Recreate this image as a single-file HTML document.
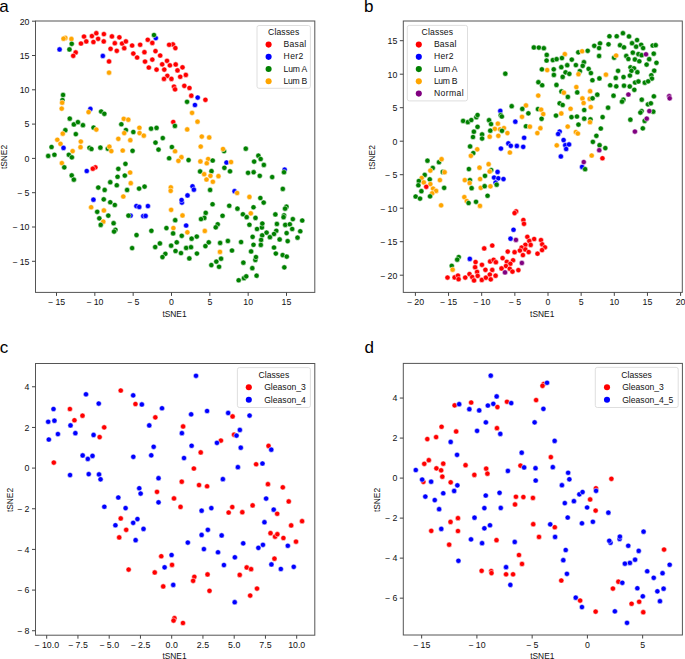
<!DOCTYPE html><html><head><meta charset="utf-8"><style>html,body{margin:0;padding:0;background:#fff;}svg{display:block}text{font-family:"Liberation Sans", sans-serif;} .tl{font-size:8.8px;fill:#111} .pl{font-size:17px;fill:#000} .al{font-size:8.8px;fill:#111} .lg{font-size:8.6px;fill:#111}</style></head><body>
<svg width="685" height="659" viewBox="0 0 685 659">
<rect width="685" height="659" fill="#fff"/>
<text x="-0.7" y="11.6" class="pl">a</text>
<circle cx="65.35" cy="37.91" r="2.6" fill="#ffa500" stroke="#fff" stroke-width="0.5"/>
<circle cx="63.53" cy="38.66" r="2.6" fill="#ffa500" stroke="#fff" stroke-width="0.5"/>
<circle cx="71.42" cy="38.97" r="2.6" fill="#ffa500" stroke="#fff" stroke-width="0.5"/>
<circle cx="71.72" cy="43.82" r="2.6" fill="#008000" stroke="#fff" stroke-width="0.5"/>
<circle cx="59.58" cy="49.44" r="2.6" fill="#0000ff" stroke="#fff" stroke-width="0.5"/>
<circle cx="69.45" cy="49.44" r="2.6" fill="#008000" stroke="#fff" stroke-width="0.5"/>
<circle cx="75.67" cy="52.47" r="2.6" fill="#ff0000" stroke="#fff" stroke-width="0.5"/>
<circle cx="73.24" cy="55.81" r="2.6" fill="#ff0000" stroke="#fff" stroke-width="0.5"/>
<circle cx="80.98" cy="43.52" r="2.6" fill="#ff0000" stroke="#fff" stroke-width="0.5"/>
<circle cx="84.01" cy="36.54" r="2.6" fill="#ff0000" stroke="#fff" stroke-width="0.5"/>
<circle cx="86.29" cy="41.4" r="2.6" fill="#ff0000" stroke="#fff" stroke-width="0.5"/>
<circle cx="91.9" cy="36.08" r="2.6" fill="#ff0000" stroke="#fff" stroke-width="0.5"/>
<circle cx="93.42" cy="42" r="2.6" fill="#ff0000" stroke="#fff" stroke-width="0.5"/>
<circle cx="96.31" cy="33.2" r="2.6" fill="#ff0000" stroke="#fff" stroke-width="0.5"/>
<circle cx="98.13" cy="38.82" r="2.6" fill="#ff0000" stroke="#fff" stroke-width="0.5"/>
<circle cx="103.89" cy="34.11" r="2.6" fill="#ff0000" stroke="#fff" stroke-width="0.5"/>
<circle cx="103.74" cy="41.4" r="2.6" fill="#ff0000" stroke="#fff" stroke-width="0.5"/>
<circle cx="111.93" cy="36.39" r="2.6" fill="#ff0000" stroke="#fff" stroke-width="0.5"/>
<circle cx="114.82" cy="43.22" r="2.6" fill="#ff0000" stroke="#fff" stroke-width="0.5"/>
<circle cx="110.57" cy="48.83" r="2.6" fill="#ff0000" stroke="#fff" stroke-width="0.5"/>
<circle cx="119.37" cy="37.3" r="2.6" fill="#ff0000" stroke="#fff" stroke-width="0.5"/>
<circle cx="116.79" cy="50.8" r="2.6" fill="#ff0000" stroke="#fff" stroke-width="0.5"/>
<circle cx="122.1" cy="43.52" r="2.6" fill="#ff0000" stroke="#fff" stroke-width="0.5"/>
<circle cx="125.9" cy="41.4" r="2.6" fill="#ff0000" stroke="#fff" stroke-width="0.5"/>
<circle cx="124.23" cy="48.22" r="2.6" fill="#ff0000" stroke="#fff" stroke-width="0.5"/>
<circle cx="132.12" cy="45.49" r="2.6" fill="#ff0000" stroke="#fff" stroke-width="0.5"/>
<circle cx="133.33" cy="53.54" r="2.6" fill="#ff0000" stroke="#fff" stroke-width="0.5"/>
<circle cx="102.83" cy="55.96" r="2.6" fill="#0000ff" stroke="#fff" stroke-width="0.5"/>
<circle cx="109.05" cy="61.43" r="2.6" fill="#ff0000" stroke="#fff" stroke-width="0.5"/>
<circle cx="109.05" cy="72.66" r="2.6" fill="#ffa500" stroke="#fff" stroke-width="0.5"/>
<circle cx="63.07" cy="94.96" r="2.6" fill="#008000" stroke="#fff" stroke-width="0.5"/>
<circle cx="62.47" cy="100.12" r="2.6" fill="#008000" stroke="#fff" stroke-width="0.5"/>
<circle cx="62.16" cy="102.7" r="2.6" fill="#ffa500" stroke="#fff" stroke-width="0.5"/>
<circle cx="61.71" cy="108.62" r="2.6" fill="#ffa500" stroke="#fff" stroke-width="0.5"/>
<circle cx="90.39" cy="108.92" r="2.6" fill="#0000ff" stroke="#fff" stroke-width="0.5"/>
<circle cx="88.57" cy="112.11" r="2.6" fill="#ffa500" stroke="#fff" stroke-width="0.5"/>
<circle cx="101.16" cy="111.5" r="2.6" fill="#008000" stroke="#fff" stroke-width="0.5"/>
<circle cx="104.35" cy="113.78" r="2.6" fill="#008000" stroke="#fff" stroke-width="0.5"/>
<circle cx="69.75" cy="118.63" r="2.6" fill="#008000" stroke="#fff" stroke-width="0.5"/>
<circle cx="123.77" cy="118.79" r="2.6" fill="#ffa500" stroke="#fff" stroke-width="0.5"/>
<circle cx="128.32" cy="119.7" r="2.6" fill="#ffa500" stroke="#fff" stroke-width="0.5"/>
<circle cx="155.8" cy="38.06" r="2.6" fill="#0000ff" stroke="#fff" stroke-width="0.5"/>
<circle cx="153.98" cy="35.02" r="2.6" fill="#008000" stroke="#fff" stroke-width="0.5"/>
<circle cx="147.75" cy="39.73" r="2.6" fill="#ff0000" stroke="#fff" stroke-width="0.5"/>
<circle cx="152.31" cy="42.91" r="2.6" fill="#ff0000" stroke="#fff" stroke-width="0.5"/>
<circle cx="140.17" cy="44.73" r="2.6" fill="#ff0000" stroke="#fff" stroke-width="0.5"/>
<circle cx="172.94" cy="44.43" r="2.6" fill="#ff0000" stroke="#fff" stroke-width="0.5"/>
<circle cx="169.15" cy="44.73" r="2.6" fill="#ff0000" stroke="#fff" stroke-width="0.5"/>
<circle cx="175.37" cy="48.07" r="2.6" fill="#ff0000" stroke="#fff" stroke-width="0.5"/>
<circle cx="137.13" cy="57.48" r="2.6" fill="#ff0000" stroke="#fff" stroke-width="0.5"/>
<circle cx="144.42" cy="52.17" r="2.6" fill="#ff0000" stroke="#fff" stroke-width="0.5"/>
<circle cx="155.49" cy="51.11" r="2.6" fill="#ff0000" stroke="#fff" stroke-width="0.5"/>
<circle cx="160.2" cy="55.51" r="2.6" fill="#ff0000" stroke="#fff" stroke-width="0.5"/>
<circle cx="145.02" cy="61.58" r="2.6" fill="#ff0000" stroke="#fff" stroke-width="0.5"/>
<circle cx="152.31" cy="59.61" r="2.6" fill="#ff0000" stroke="#fff" stroke-width="0.5"/>
<circle cx="167.03" cy="60.82" r="2.6" fill="#ff0000" stroke="#fff" stroke-width="0.5"/>
<circle cx="162.17" cy="64.31" r="2.6" fill="#ff0000" stroke="#fff" stroke-width="0.5"/>
<circle cx="169.91" cy="65.37" r="2.6" fill="#ff0000" stroke="#fff" stroke-width="0.5"/>
<circle cx="175.68" cy="64.46" r="2.6" fill="#ff0000" stroke="#fff" stroke-width="0.5"/>
<circle cx="148.82" cy="67.5" r="2.6" fill="#ff0000" stroke="#fff" stroke-width="0.5"/>
<circle cx="156.56" cy="69.62" r="2.6" fill="#ff0000" stroke="#fff" stroke-width="0.5"/>
<circle cx="164.29" cy="69.62" r="2.6" fill="#ff0000" stroke="#fff" stroke-width="0.5"/>
<circle cx="177.5" cy="70.38" r="2.6" fill="#ff0000" stroke="#fff" stroke-width="0.5"/>
<circle cx="182.5" cy="67.34" r="2.6" fill="#ff0000" stroke="#fff" stroke-width="0.5"/>
<circle cx="167.33" cy="75.84" r="2.6" fill="#ff0000" stroke="#fff" stroke-width="0.5"/>
<circle cx="163.99" cy="78.88" r="2.6" fill="#ff0000" stroke="#fff" stroke-width="0.5"/>
<circle cx="171.43" cy="78.88" r="2.6" fill="#ff0000" stroke="#fff" stroke-width="0.5"/>
<circle cx="180.23" cy="76.75" r="2.6" fill="#ff0000" stroke="#fff" stroke-width="0.5"/>
<circle cx="185.84" cy="74.93" r="2.6" fill="#ff0000" stroke="#fff" stroke-width="0.5"/>
<circle cx="174.01" cy="86.62" r="2.6" fill="#ff0000" stroke="#fff" stroke-width="0.5"/>
<circle cx="175.07" cy="89.35" r="2.6" fill="#ff0000" stroke="#fff" stroke-width="0.5"/>
<circle cx="184.32" cy="85.86" r="2.6" fill="#ff0000" stroke="#fff" stroke-width="0.5"/>
<circle cx="189.48" cy="87.98" r="2.6" fill="#ff0000" stroke="#fff" stroke-width="0.5"/>
<circle cx="191.31" cy="95.72" r="2.6" fill="#ff0000" stroke="#fff" stroke-width="0.5"/>
<circle cx="197.68" cy="97.54" r="2.6" fill="#0000ff" stroke="#fff" stroke-width="0.5"/>
<circle cx="205.42" cy="99.82" r="2.6" fill="#ff0000" stroke="#fff" stroke-width="0.5"/>
<circle cx="187.06" cy="101.79" r="2.6" fill="#008000" stroke="#fff" stroke-width="0.5"/>
<circle cx="194.95" cy="104.98" r="2.6" fill="#0000ff" stroke="#fff" stroke-width="0.5"/>
<circle cx="192.06" cy="112.87" r="2.6" fill="#ffa500" stroke="#fff" stroke-width="0.5"/>
<circle cx="73.85" cy="124.41" r="2.6" fill="#008000" stroke="#fff" stroke-width="0.5"/>
<circle cx="77.94" cy="122.13" r="2.6" fill="#008000" stroke="#fff" stroke-width="0.5"/>
<circle cx="82.95" cy="125.17" r="2.6" fill="#008000" stroke="#fff" stroke-width="0.5"/>
<circle cx="93.57" cy="127.59" r="2.6" fill="#008000" stroke="#fff" stroke-width="0.5"/>
<circle cx="96.31" cy="129.57" r="2.6" fill="#ffa500" stroke="#fff" stroke-width="0.5"/>
<circle cx="121.34" cy="124.26" r="2.6" fill="#008000" stroke="#fff" stroke-width="0.5"/>
<circle cx="65.35" cy="130.17" r="2.6" fill="#008000" stroke="#fff" stroke-width="0.5"/>
<circle cx="62.77" cy="133.66" r="2.6" fill="#ffa500" stroke="#fff" stroke-width="0.5"/>
<circle cx="75.82" cy="134.12" r="2.6" fill="#008000" stroke="#fff" stroke-width="0.5"/>
<circle cx="125.9" cy="130.02" r="2.6" fill="#008000" stroke="#fff" stroke-width="0.5"/>
<circle cx="124.23" cy="133.06" r="2.6" fill="#ffa500" stroke="#fff" stroke-width="0.5"/>
<circle cx="133.33" cy="132" r="2.6" fill="#008000" stroke="#fff" stroke-width="0.5"/>
<circle cx="57.31" cy="139.73" r="2.6" fill="#ffa500" stroke="#fff" stroke-width="0.5"/>
<circle cx="60.49" cy="143.83" r="2.6" fill="#ffa500" stroke="#fff" stroke-width="0.5"/>
<circle cx="80.83" cy="141.56" r="2.6" fill="#ffa500" stroke="#fff" stroke-width="0.5"/>
<circle cx="118.31" cy="138.82" r="2.6" fill="#ffa500" stroke="#fff" stroke-width="0.5"/>
<circle cx="130.3" cy="140.19" r="2.6" fill="#ffa500" stroke="#fff" stroke-width="0.5"/>
<circle cx="51.54" cy="147.02" r="2.6" fill="#008000" stroke="#fff" stroke-width="0.5"/>
<circle cx="63.53" cy="147.93" r="2.6" fill="#0000ff" stroke="#fff" stroke-width="0.5"/>
<circle cx="80.52" cy="147.17" r="2.6" fill="#ffa500" stroke="#fff" stroke-width="0.5"/>
<circle cx="89.48" cy="147.78" r="2.6" fill="#008000" stroke="#fff" stroke-width="0.5"/>
<circle cx="91.45" cy="148.99" r="2.6" fill="#008000" stroke="#fff" stroke-width="0.5"/>
<circle cx="100.4" cy="147.63" r="2.6" fill="#008000" stroke="#fff" stroke-width="0.5"/>
<circle cx="107.84" cy="148.69" r="2.6" fill="#008000" stroke="#fff" stroke-width="0.5"/>
<circle cx="109.36" cy="146.71" r="2.6" fill="#ffa500" stroke="#fff" stroke-width="0.5"/>
<circle cx="111.33" cy="151.12" r="2.6" fill="#ffa500" stroke="#fff" stroke-width="0.5"/>
<circle cx="122.71" cy="150.51" r="2.6" fill="#ffa500" stroke="#fff" stroke-width="0.5"/>
<circle cx="132.57" cy="150.81" r="2.6" fill="#008000" stroke="#fff" stroke-width="0.5"/>
<circle cx="72.63" cy="151.12" r="2.6" fill="#ffa500" stroke="#fff" stroke-width="0.5"/>
<circle cx="68.84" cy="154.76" r="2.6" fill="#008000" stroke="#fff" stroke-width="0.5"/>
<circle cx="71.87" cy="157.34" r="2.6" fill="#008000" stroke="#fff" stroke-width="0.5"/>
<circle cx="48.2" cy="155.97" r="2.6" fill="#008000" stroke="#fff" stroke-width="0.5"/>
<circle cx="54.42" cy="154.76" r="2.6" fill="#008000" stroke="#fff" stroke-width="0.5"/>
<circle cx="61.86" cy="163.1" r="2.6" fill="#ffa500" stroke="#fff" stroke-width="0.5"/>
<circle cx="64.29" cy="167.35" r="2.6" fill="#008000" stroke="#fff" stroke-width="0.5"/>
<circle cx="86.75" cy="170.99" r="2.6" fill="#0000ff" stroke="#fff" stroke-width="0.5"/>
<circle cx="95.39" cy="167.35" r="2.6" fill="#ff0000" stroke="#fff" stroke-width="0.5"/>
<circle cx="92.81" cy="168.72" r="2.6" fill="#ff0000" stroke="#fff" stroke-width="0.5"/>
<circle cx="125.44" cy="163.86" r="2.6" fill="#008000" stroke="#fff" stroke-width="0.5"/>
<circle cx="118.31" cy="168.87" r="2.6" fill="#008000" stroke="#fff" stroke-width="0.5"/>
<circle cx="130.14" cy="172.51" r="2.6" fill="#ffa500" stroke="#fff" stroke-width="0.5"/>
<circle cx="124.83" cy="175.55" r="2.6" fill="#008000" stroke="#fff" stroke-width="0.5"/>
<circle cx="117.55" cy="176.76" r="2.6" fill="#008000" stroke="#fff" stroke-width="0.5"/>
<circle cx="71.72" cy="175.39" r="2.6" fill="#008000" stroke="#fff" stroke-width="0.5"/>
<circle cx="73.85" cy="179.64" r="2.6" fill="#008000" stroke="#fff" stroke-width="0.5"/>
<circle cx="110.27" cy="182.22" r="2.6" fill="#008000" stroke="#fff" stroke-width="0.5"/>
<circle cx="116.79" cy="185.26" r="2.6" fill="#008000" stroke="#fff" stroke-width="0.5"/>
<circle cx="98.28" cy="187.53" r="2.6" fill="#008000" stroke="#fff" stroke-width="0.5"/>
<circle cx="104.65" cy="189.96" r="2.6" fill="#008000" stroke="#fff" stroke-width="0.5"/>
<circle cx="130.75" cy="183.13" r="2.6" fill="#ffa500" stroke="#fff" stroke-width="0.5"/>
<circle cx="127.11" cy="189.96" r="2.6" fill="#008000" stroke="#fff" stroke-width="0.5"/>
<circle cx="123.32" cy="196.49" r="2.6" fill="#ffa500" stroke="#fff" stroke-width="0.5"/>
<circle cx="93.42" cy="199.67" r="2.6" fill="#0000ff" stroke="#fff" stroke-width="0.5"/>
<circle cx="103.74" cy="199.37" r="2.6" fill="#008000" stroke="#fff" stroke-width="0.5"/>
<circle cx="110.27" cy="202.25" r="2.6" fill="#008000" stroke="#fff" stroke-width="0.5"/>
<circle cx="114.82" cy="204.98" r="2.6" fill="#008000" stroke="#fff" stroke-width="0.5"/>
<circle cx="91.15" cy="207.26" r="2.6" fill="#ffa500" stroke="#fff" stroke-width="0.5"/>
<circle cx="103.89" cy="210.45" r="2.6" fill="#ffa500" stroke="#fff" stroke-width="0.5"/>
<circle cx="97.22" cy="211.81" r="2.6" fill="#008000" stroke="#fff" stroke-width="0.5"/>
<circle cx="173.25" cy="121.98" r="2.6" fill="#ff0000" stroke="#fff" stroke-width="0.5"/>
<circle cx="174.92" cy="125.93" r="2.6" fill="#008000" stroke="#fff" stroke-width="0.5"/>
<circle cx="197.53" cy="121.68" r="2.6" fill="#ffa500" stroke="#fff" stroke-width="0.5"/>
<circle cx="187.21" cy="129.42" r="2.6" fill="#ffa500" stroke="#fff" stroke-width="0.5"/>
<circle cx="139.41" cy="127.75" r="2.6" fill="#ffa500" stroke="#fff" stroke-width="0.5"/>
<circle cx="139.56" cy="133.06" r="2.6" fill="#ffa500" stroke="#fff" stroke-width="0.5"/>
<circle cx="143.81" cy="135.64" r="2.6" fill="#ffa500" stroke="#fff" stroke-width="0.5"/>
<circle cx="151.09" cy="128.66" r="2.6" fill="#008000" stroke="#fff" stroke-width="0.5"/>
<circle cx="156.56" cy="127.9" r="2.6" fill="#008000" stroke="#fff" stroke-width="0.5"/>
<circle cx="162.78" cy="138.07" r="2.6" fill="#008000" stroke="#fff" stroke-width="0.5"/>
<circle cx="155.49" cy="142.62" r="2.6" fill="#008000" stroke="#fff" stroke-width="0.5"/>
<circle cx="158.53" cy="149.6" r="2.6" fill="#008000" stroke="#fff" stroke-width="0.5"/>
<circle cx="171.88" cy="147.02" r="2.6" fill="#008000" stroke="#fff" stroke-width="0.5"/>
<circle cx="175.07" cy="151.27" r="2.6" fill="#ffa500" stroke="#fff" stroke-width="0.5"/>
<circle cx="181.44" cy="157.19" r="2.6" fill="#ffa500" stroke="#fff" stroke-width="0.5"/>
<circle cx="178.41" cy="160.83" r="2.6" fill="#ffa500" stroke="#fff" stroke-width="0.5"/>
<circle cx="169.15" cy="158.25" r="2.6" fill="#008000" stroke="#fff" stroke-width="0.5"/>
<circle cx="188.57" cy="160.07" r="2.6" fill="#008000" stroke="#fff" stroke-width="0.5"/>
<circle cx="201.78" cy="136.55" r="2.6" fill="#ffa500" stroke="#fff" stroke-width="0.5"/>
<circle cx="209.21" cy="137.46" r="2.6" fill="#ffa500" stroke="#fff" stroke-width="0.5"/>
<circle cx="200.71" cy="146.56" r="2.6" fill="#ffa500" stroke="#fff" stroke-width="0.5"/>
<circle cx="224.08" cy="151.12" r="2.6" fill="#008000" stroke="#fff" stroke-width="0.5"/>
<circle cx="223.02" cy="148.99" r="2.6" fill="#ffa500" stroke="#fff" stroke-width="0.5"/>
<circle cx="200.41" cy="161.43" r="2.6" fill="#ffa500" stroke="#fff" stroke-width="0.5"/>
<circle cx="208.15" cy="159.01" r="2.6" fill="#ffa500" stroke="#fff" stroke-width="0.5"/>
<circle cx="206.78" cy="163.25" r="2.6" fill="#ffa500" stroke="#fff" stroke-width="0.5"/>
<circle cx="212.7" cy="160.52" r="2.6" fill="#008000" stroke="#fff" stroke-width="0.5"/>
<circle cx="226.51" cy="162.5" r="2.6" fill="#0000ff" stroke="#fff" stroke-width="0.5"/>
<circle cx="224.39" cy="167.81" r="2.6" fill="#008000" stroke="#fff" stroke-width="0.5"/>
<circle cx="200.11" cy="171.45" r="2.6" fill="#008000" stroke="#fff" stroke-width="0.5"/>
<circle cx="211.49" cy="171.15" r="2.6" fill="#008000" stroke="#fff" stroke-width="0.5"/>
<circle cx="204.2" cy="174.18" r="2.6" fill="#ffa500" stroke="#fff" stroke-width="0.5"/>
<circle cx="210.42" cy="175.85" r="2.6" fill="#ffa500" stroke="#fff" stroke-width="0.5"/>
<circle cx="218.47" cy="176.15" r="2.6" fill="#ffa500" stroke="#fff" stroke-width="0.5"/>
<circle cx="206.48" cy="179.49" r="2.6" fill="#ffa500" stroke="#fff" stroke-width="0.5"/>
<circle cx="212.85" cy="181.77" r="2.6" fill="#ffa500" stroke="#fff" stroke-width="0.5"/>
<circle cx="139.1" cy="188.6" r="2.6" fill="#008000" stroke="#fff" stroke-width="0.5"/>
<circle cx="144.57" cy="186.62" r="2.6" fill="#008000" stroke="#fff" stroke-width="0.5"/>
<circle cx="170.82" cy="187.38" r="2.6" fill="#ffa500" stroke="#fff" stroke-width="0.5"/>
<circle cx="170.67" cy="190.87" r="2.6" fill="#ffa500" stroke="#fff" stroke-width="0.5"/>
<circle cx="192.52" cy="186.32" r="2.6" fill="#0000ff" stroke="#fff" stroke-width="0.5"/>
<circle cx="193.88" cy="189.66" r="2.6" fill="#0000ff" stroke="#fff" stroke-width="0.5"/>
<circle cx="187.51" cy="195.42" r="2.6" fill="#0000ff" stroke="#fff" stroke-width="0.5"/>
<circle cx="181.9" cy="202.56" r="2.6" fill="#0000ff" stroke="#fff" stroke-width="0.5"/>
<circle cx="181.59" cy="199.98" r="2.6" fill="#0000ff" stroke="#fff" stroke-width="0.5"/>
<circle cx="210.12" cy="189.96" r="2.6" fill="#008000" stroke="#fff" stroke-width="0.5"/>
<circle cx="212.55" cy="204.23" r="2.6" fill="#008000" stroke="#fff" stroke-width="0.5"/>
<circle cx="136.37" cy="206.05" r="2.6" fill="#0000ff" stroke="#fff" stroke-width="0.5"/>
<circle cx="139.26" cy="206.96" r="2.6" fill="#0000ff" stroke="#fff" stroke-width="0.5"/>
<circle cx="147.91" cy="206.05" r="2.6" fill="#0000ff" stroke="#fff" stroke-width="0.5"/>
<circle cx="171.12" cy="209.84" r="2.6" fill="#ffa500" stroke="#fff" stroke-width="0.5"/>
<circle cx="205.72" cy="212.88" r="2.6" fill="#008000" stroke="#fff" stroke-width="0.5"/>
<circle cx="245.79" cy="148.69" r="2.6" fill="#008000" stroke="#fff" stroke-width="0.5"/>
<circle cx="258.38" cy="155.67" r="2.6" fill="#008000" stroke="#fff" stroke-width="0.5"/>
<circle cx="260.66" cy="159.01" r="2.6" fill="#008000" stroke="#fff" stroke-width="0.5"/>
<circle cx="254.14" cy="161.59" r="2.6" fill="#008000" stroke="#fff" stroke-width="0.5"/>
<circle cx="263.85" cy="164.92" r="2.6" fill="#008000" stroke="#fff" stroke-width="0.5"/>
<circle cx="231.07" cy="162.04" r="2.6" fill="#ffa500" stroke="#fff" stroke-width="0.5"/>
<circle cx="230.01" cy="171.3" r="2.6" fill="#008000" stroke="#fff" stroke-width="0.5"/>
<circle cx="248.07" cy="172.81" r="2.6" fill="#008000" stroke="#fff" stroke-width="0.5"/>
<circle cx="253.68" cy="172.21" r="2.6" fill="#008000" stroke="#fff" stroke-width="0.5"/>
<circle cx="259.75" cy="175.85" r="2.6" fill="#008000" stroke="#fff" stroke-width="0.5"/>
<circle cx="272.19" cy="177.06" r="2.6" fill="#008000" stroke="#fff" stroke-width="0.5"/>
<circle cx="284.64" cy="169.63" r="2.6" fill="#0000ff" stroke="#fff" stroke-width="0.5"/>
<circle cx="284.03" cy="172.21" r="2.6" fill="#008000" stroke="#fff" stroke-width="0.5"/>
<circle cx="282.81" cy="188.9" r="2.6" fill="#008000" stroke="#fff" stroke-width="0.5"/>
<circle cx="234.56" cy="191.18" r="2.6" fill="#0000ff" stroke="#fff" stroke-width="0.5"/>
<circle cx="237.14" cy="193" r="2.6" fill="#ffa500" stroke="#fff" stroke-width="0.5"/>
<circle cx="249.43" cy="196.94" r="2.6" fill="#ffa500" stroke="#fff" stroke-width="0.5"/>
<circle cx="260.36" cy="198" r="2.6" fill="#008000" stroke="#fff" stroke-width="0.5"/>
<circle cx="263.69" cy="202.56" r="2.6" fill="#008000" stroke="#fff" stroke-width="0.5"/>
<circle cx="229.25" cy="205.74" r="2.6" fill="#008000" stroke="#fff" stroke-width="0.5"/>
<circle cx="237.44" cy="208.63" r="2.6" fill="#008000" stroke="#fff" stroke-width="0.5"/>
<circle cx="253.53" cy="207.26" r="2.6" fill="#008000" stroke="#fff" stroke-width="0.5"/>
<circle cx="286.46" cy="206.65" r="2.6" fill="#008000" stroke="#fff" stroke-width="0.5"/>
<circle cx="285.09" cy="208.63" r="2.6" fill="#008000" stroke="#fff" stroke-width="0.5"/>
<circle cx="250.8" cy="213.33" r="2.6" fill="#ffa500" stroke="#fff" stroke-width="0.5"/>
<circle cx="108.29" cy="215.62" r="2.6" fill="#008000" stroke="#fff" stroke-width="0.5"/>
<circle cx="99.34" cy="218.35" r="2.6" fill="#008000" stroke="#fff" stroke-width="0.5"/>
<circle cx="103.29" cy="221.69" r="2.6" fill="#ffa500" stroke="#fff" stroke-width="0.5"/>
<circle cx="100.71" cy="224.88" r="2.6" fill="#008000" stroke="#fff" stroke-width="0.5"/>
<circle cx="113.6" cy="223.21" r="2.6" fill="#008000" stroke="#fff" stroke-width="0.5"/>
<circle cx="115.42" cy="229.73" r="2.6" fill="#008000" stroke="#fff" stroke-width="0.5"/>
<circle cx="114.06" cy="231.56" r="2.6" fill="#008000" stroke="#fff" stroke-width="0.5"/>
<circle cx="130.6" cy="215.62" r="2.6" fill="#0000ff" stroke="#fff" stroke-width="0.5"/>
<circle cx="128.47" cy="215.62" r="2.6" fill="#008000" stroke="#fff" stroke-width="0.5"/>
<circle cx="132.12" cy="248.1" r="2.6" fill="#008000" stroke="#fff" stroke-width="0.5"/>
<circle cx="143.2" cy="216.08" r="2.6" fill="#0000ff" stroke="#fff" stroke-width="0.5"/>
<circle cx="145.63" cy="215.93" r="2.6" fill="#0000ff" stroke="#fff" stroke-width="0.5"/>
<circle cx="182.5" cy="215.47" r="2.6" fill="#ffa500" stroke="#fff" stroke-width="0.5"/>
<circle cx="175.22" cy="220.17" r="2.6" fill="#008000" stroke="#fff" stroke-width="0.5"/>
<circle cx="204.36" cy="217.9" r="2.6" fill="#008000" stroke="#fff" stroke-width="0.5"/>
<circle cx="201.02" cy="219.11" r="2.6" fill="#008000" stroke="#fff" stroke-width="0.5"/>
<circle cx="222.56" cy="215.77" r="2.6" fill="#008000" stroke="#fff" stroke-width="0.5"/>
<circle cx="186.15" cy="225.49" r="2.6" fill="#0000ff" stroke="#fff" stroke-width="0.5"/>
<circle cx="173.4" cy="228.07" r="2.6" fill="#ffa500" stroke="#fff" stroke-width="0.5"/>
<circle cx="166.42" cy="228.07" r="2.6" fill="#008000" stroke="#fff" stroke-width="0.5"/>
<circle cx="151.4" cy="230.8" r="2.6" fill="#008000" stroke="#fff" stroke-width="0.5"/>
<circle cx="136.53" cy="235.05" r="2.6" fill="#008000" stroke="#fff" stroke-width="0.5"/>
<circle cx="187.36" cy="232.31" r="2.6" fill="#ffa500" stroke="#fff" stroke-width="0.5"/>
<circle cx="173.1" cy="233.38" r="2.6" fill="#008000" stroke="#fff" stroke-width="0.5"/>
<circle cx="217.71" cy="224.27" r="2.6" fill="#008000" stroke="#fff" stroke-width="0.5"/>
<circle cx="215.74" cy="227.31" r="2.6" fill="#008000" stroke="#fff" stroke-width="0.5"/>
<circle cx="204.81" cy="230.95" r="2.6" fill="#ffa500" stroke="#fff" stroke-width="0.5"/>
<circle cx="181.75" cy="235.8" r="2.6" fill="#008000" stroke="#fff" stroke-width="0.5"/>
<circle cx="191.61" cy="238.69" r="2.6" fill="#008000" stroke="#fff" stroke-width="0.5"/>
<circle cx="196.77" cy="236.56" r="2.6" fill="#008000" stroke="#fff" stroke-width="0.5"/>
<circle cx="176.74" cy="242.33" r="2.6" fill="#008000" stroke="#fff" stroke-width="0.5"/>
<circle cx="159.89" cy="243.39" r="2.6" fill="#008000" stroke="#fff" stroke-width="0.5"/>
<circle cx="155.19" cy="247.03" r="2.6" fill="#008000" stroke="#fff" stroke-width="0.5"/>
<circle cx="171.12" cy="245.67" r="2.6" fill="#008000" stroke="#fff" stroke-width="0.5"/>
<circle cx="186.15" cy="247.94" r="2.6" fill="#008000" stroke="#fff" stroke-width="0.5"/>
<circle cx="191" cy="247.19" r="2.6" fill="#008000" stroke="#fff" stroke-width="0.5"/>
<circle cx="208.76" cy="242.33" r="2.6" fill="#008000" stroke="#fff" stroke-width="0.5"/>
<circle cx="205.42" cy="246.12" r="2.6" fill="#008000" stroke="#fff" stroke-width="0.5"/>
<circle cx="220.14" cy="242.94" r="2.6" fill="#008000" stroke="#fff" stroke-width="0.5"/>
<circle cx="227.88" cy="240.96" r="2.6" fill="#008000" stroke="#fff" stroke-width="0.5"/>
<circle cx="219.98" cy="251.89" r="2.6" fill="#ffa500" stroke="#fff" stroke-width="0.5"/>
<circle cx="175.52" cy="250.98" r="2.6" fill="#008000" stroke="#fff" stroke-width="0.5"/>
<circle cx="180.99" cy="253.1" r="2.6" fill="#008000" stroke="#fff" stroke-width="0.5"/>
<circle cx="196.92" cy="253.56" r="2.6" fill="#008000" stroke="#fff" stroke-width="0.5"/>
<circle cx="165.36" cy="253.86" r="2.6" fill="#008000" stroke="#fff" stroke-width="0.5"/>
<circle cx="162.47" cy="257.05" r="2.6" fill="#008000" stroke="#fff" stroke-width="0.5"/>
<circle cx="189.33" cy="258.41" r="2.6" fill="#008000" stroke="#fff" stroke-width="0.5"/>
<circle cx="221.05" cy="258.72" r="2.6" fill="#008000" stroke="#fff" stroke-width="0.5"/>
<circle cx="216.34" cy="261.6" r="2.6" fill="#008000" stroke="#fff" stroke-width="0.5"/>
<circle cx="211.34" cy="265.09" r="2.6" fill="#008000" stroke="#fff" stroke-width="0.5"/>
<circle cx="219.07" cy="266.76" r="2.6" fill="#008000" stroke="#fff" stroke-width="0.5"/>
<circle cx="242.91" cy="214.26" r="2.6" fill="#008000" stroke="#fff" stroke-width="0.5"/>
<circle cx="246.7" cy="217.14" r="2.6" fill="#008000" stroke="#fff" stroke-width="0.5"/>
<circle cx="255.5" cy="217.9" r="2.6" fill="#008000" stroke="#fff" stroke-width="0.5"/>
<circle cx="275.38" cy="214.41" r="2.6" fill="#008000" stroke="#fff" stroke-width="0.5"/>
<circle cx="284.03" cy="215.32" r="2.6" fill="#008000" stroke="#fff" stroke-width="0.5"/>
<circle cx="283.57" cy="217.14" r="2.6" fill="#008000" stroke="#fff" stroke-width="0.5"/>
<circle cx="292.83" cy="219.11" r="2.6" fill="#008000" stroke="#fff" stroke-width="0.5"/>
<circle cx="302.24" cy="220.48" r="2.6" fill="#008000" stroke="#fff" stroke-width="0.5"/>
<circle cx="249.43" cy="224.73" r="2.6" fill="#008000" stroke="#fff" stroke-width="0.5"/>
<circle cx="261.87" cy="227.46" r="2.6" fill="#008000" stroke="#fff" stroke-width="0.5"/>
<circle cx="262.33" cy="223.51" r="2.6" fill="#008000" stroke="#fff" stroke-width="0.5"/>
<circle cx="257.02" cy="228.98" r="2.6" fill="#008000" stroke="#fff" stroke-width="0.5"/>
<circle cx="276.9" cy="223.97" r="2.6" fill="#008000" stroke="#fff" stroke-width="0.5"/>
<circle cx="285.24" cy="224.88" r="2.6" fill="#008000" stroke="#fff" stroke-width="0.5"/>
<circle cx="289.8" cy="224.27" r="2.6" fill="#008000" stroke="#fff" stroke-width="0.5"/>
<circle cx="292.22" cy="228.98" r="2.6" fill="#008000" stroke="#fff" stroke-width="0.5"/>
<circle cx="276.29" cy="230.8" r="2.6" fill="#008000" stroke="#fff" stroke-width="0.5"/>
<circle cx="300.27" cy="231.25" r="2.6" fill="#008000" stroke="#fff" stroke-width="0.5"/>
<circle cx="266.58" cy="232.62" r="2.6" fill="#008000" stroke="#fff" stroke-width="0.5"/>
<circle cx="274.01" cy="233.98" r="2.6" fill="#008000" stroke="#fff" stroke-width="0.5"/>
<circle cx="262.18" cy="235.35" r="2.6" fill="#008000" stroke="#fff" stroke-width="0.5"/>
<circle cx="252.62" cy="236.87" r="2.6" fill="#008000" stroke="#fff" stroke-width="0.5"/>
<circle cx="286.61" cy="233.07" r="2.6" fill="#008000" stroke="#fff" stroke-width="0.5"/>
<circle cx="269.92" cy="237.17" r="2.6" fill="#008000" stroke="#fff" stroke-width="0.5"/>
<circle cx="279.63" cy="239.45" r="2.6" fill="#008000" stroke="#fff" stroke-width="0.5"/>
<circle cx="261.12" cy="239.9" r="2.6" fill="#008000" stroke="#fff" stroke-width="0.5"/>
<circle cx="297.53" cy="237.63" r="2.6" fill="#008000" stroke="#fff" stroke-width="0.5"/>
<circle cx="287.67" cy="241.12" r="2.6" fill="#008000" stroke="#fff" stroke-width="0.5"/>
<circle cx="241.08" cy="242.03" r="2.6" fill="#008000" stroke="#fff" stroke-width="0.5"/>
<circle cx="253.53" cy="244.76" r="2.6" fill="#008000" stroke="#fff" stroke-width="0.5"/>
<circle cx="260.81" cy="244.91" r="2.6" fill="#008000" stroke="#fff" stroke-width="0.5"/>
<circle cx="231.98" cy="250.52" r="2.6" fill="#008000" stroke="#fff" stroke-width="0.5"/>
<circle cx="251.1" cy="251.43" r="2.6" fill="#008000" stroke="#fff" stroke-width="0.5"/>
<circle cx="274.01" cy="247.49" r="2.6" fill="#008000" stroke="#fff" stroke-width="0.5"/>
<circle cx="275.83" cy="253.56" r="2.6" fill="#008000" stroke="#fff" stroke-width="0.5"/>
<circle cx="282.66" cy="255.08" r="2.6" fill="#008000" stroke="#fff" stroke-width="0.5"/>
<circle cx="286.76" cy="256.59" r="2.6" fill="#008000" stroke="#fff" stroke-width="0.5"/>
<circle cx="255.35" cy="259.93" r="2.6" fill="#008000" stroke="#fff" stroke-width="0.5"/>
<circle cx="255.96" cy="257.05" r="2.6" fill="#008000" stroke="#fff" stroke-width="0.5"/>
<circle cx="243.36" cy="262.66" r="2.6" fill="#008000" stroke="#fff" stroke-width="0.5"/>
<circle cx="252.31" cy="268.13" r="2.6" fill="#008000" stroke="#fff" stroke-width="0.5"/>
<circle cx="284.33" cy="267.37" r="2.6" fill="#008000" stroke="#fff" stroke-width="0.5"/>
<circle cx="256.56" cy="275.71" r="2.6" fill="#008000" stroke="#fff" stroke-width="0.5"/>
<circle cx="243.97" cy="278.14" r="2.6" fill="#008000" stroke="#fff" stroke-width="0.5"/>
<circle cx="246.24" cy="276.32" r="2.6" fill="#008000" stroke="#fff" stroke-width="0.5"/>
<circle cx="238.66" cy="280.27" r="2.6" fill="#008000" stroke="#fff" stroke-width="0.5"/>
<rect x="35.5" y="21" width="279.3" height="271.4" fill="none" stroke="#555" stroke-width="1"/>
<line x1="32" y1="21.2" x2="35.5" y2="21.2" stroke="#444" stroke-width="1"/>
<text x="29.5" y="24.5" text-anchor="end" class="tl">20</text>
<line x1="32" y1="55.5" x2="35.5" y2="55.5" stroke="#444" stroke-width="1"/>
<text x="29.5" y="58.8" text-anchor="end" class="tl">15</text>
<line x1="32" y1="89.8" x2="35.5" y2="89.8" stroke="#444" stroke-width="1"/>
<text x="29.5" y="93.1" text-anchor="end" class="tl">10</text>
<line x1="32" y1="124.1" x2="35.5" y2="124.1" stroke="#444" stroke-width="1"/>
<text x="29.5" y="127.4" text-anchor="end" class="tl">5</text>
<line x1="32" y1="158.4" x2="35.5" y2="158.4" stroke="#444" stroke-width="1"/>
<text x="29.5" y="161.7" text-anchor="end" class="tl">0</text>
<line x1="32" y1="192.7" x2="35.5" y2="192.7" stroke="#444" stroke-width="1"/>
<text x="29.5" y="196" text-anchor="end" class="tl">− 5</text>
<line x1="32" y1="227" x2="35.5" y2="227" stroke="#444" stroke-width="1"/>
<text x="29.5" y="230.3" text-anchor="end" class="tl">− 10</text>
<line x1="32" y1="261.3" x2="35.5" y2="261.3" stroke="#444" stroke-width="1"/>
<text x="29.5" y="264.6" text-anchor="end" class="tl">− 15</text>
<line x1="56.5" y1="292.4" x2="56.5" y2="295.9" stroke="#444" stroke-width="1"/>
<text x="56.5" y="305" text-anchor="middle" class="tl">− 15</text>
<line x1="94.83" y1="292.4" x2="94.83" y2="295.9" stroke="#444" stroke-width="1"/>
<text x="94.83" y="305" text-anchor="middle" class="tl">− 10</text>
<line x1="133.16" y1="292.4" x2="133.16" y2="295.9" stroke="#444" stroke-width="1"/>
<text x="133.16" y="305" text-anchor="middle" class="tl">− 5</text>
<line x1="171.5" y1="292.4" x2="171.5" y2="295.9" stroke="#444" stroke-width="1"/>
<text x="171.5" y="305" text-anchor="middle" class="tl">0</text>
<line x1="209.84" y1="292.4" x2="209.84" y2="295.9" stroke="#444" stroke-width="1"/>
<text x="209.84" y="305" text-anchor="middle" class="tl">5</text>
<line x1="248.17" y1="292.4" x2="248.17" y2="295.9" stroke="#444" stroke-width="1"/>
<text x="248.17" y="305" text-anchor="middle" class="tl">10</text>
<line x1="286.5" y1="292.4" x2="286.5" y2="295.9" stroke="#444" stroke-width="1"/>
<text x="286.5" y="305" text-anchor="middle" class="tl">15</text>
<text x="174.5" y="317" text-anchor="middle" class="al" textLength="24.2" lengthAdjust="spacingAndGlyphs">tSNE1</text>
<text transform="translate(6.6,157) rotate(-90)" text-anchor="middle" class="al" textLength="24.2" lengthAdjust="spacingAndGlyphs">tSNE2</text>
<rect x="257" y="25.5" width="53.4" height="62.8" rx="2" fill="#fff" fill-opacity="0.8" stroke="#d6d6d6" stroke-width="0.8"/>
<text x="283.7" y="34.8" text-anchor="middle" class="lg" textLength="31.2" lengthAdjust="spacing">Classes</text>
<circle cx="268.6" cy="44.6" r="3.05" fill="#ff0000"/>
<text x="283.6" y="47.2" class="lg" textLength="22.5" lengthAdjust="spacing">Basal</text>
<circle cx="268.6" cy="56.83" r="3.05" fill="#0000ff"/>
<text x="283.6" y="59.43" class="lg" textLength="19.7" lengthAdjust="spacing">Her2</text>
<circle cx="268.6" cy="69.06" r="3.05" fill="#008000"/>
<text x="283.6" y="71.66" class="lg" textLength="23.7" lengthAdjust="spacing">Lum A</text>
<circle cx="268.6" cy="81.29" r="3.05" fill="#ffa500"/>
<text x="283.6" y="83.89" class="lg" textLength="23.7" lengthAdjust="spacing">Lum B</text>
<text x="364" y="11.7" class="pl">b</text>
<circle cx="533.85" cy="47.47" r="2.6" fill="#008000" stroke="#fff" stroke-width="0.5"/>
<circle cx="538.85" cy="47.62" r="2.6" fill="#008000" stroke="#fff" stroke-width="0.5"/>
<circle cx="543.86" cy="48.22" r="2.6" fill="#008000" stroke="#fff" stroke-width="0.5"/>
<circle cx="546.75" cy="54.9" r="2.6" fill="#008000" stroke="#fff" stroke-width="0.5"/>
<circle cx="564.8" cy="54.14" r="2.6" fill="#ffa500" stroke="#fff" stroke-width="0.5"/>
<circle cx="578.31" cy="52.32" r="2.6" fill="#008000" stroke="#fff" stroke-width="0.5"/>
<circle cx="582.1" cy="51.26" r="2.6" fill="#ffa500" stroke="#fff" stroke-width="0.5"/>
<circle cx="587.72" cy="50.8" r="2.6" fill="#008000" stroke="#fff" stroke-width="0.5"/>
<circle cx="546.59" cy="60.52" r="2.6" fill="#008000" stroke="#fff" stroke-width="0.5"/>
<circle cx="552.81" cy="60.06" r="2.6" fill="#008000" stroke="#fff" stroke-width="0.5"/>
<circle cx="556.61" cy="59.15" r="2.6" fill="#008000" stroke="#fff" stroke-width="0.5"/>
<circle cx="561.92" cy="58.09" r="2.6" fill="#008000" stroke="#fff" stroke-width="0.5"/>
<circle cx="571.78" cy="59.61" r="2.6" fill="#008000" stroke="#fff" stroke-width="0.5"/>
<circle cx="583.92" cy="62.19" r="2.6" fill="#008000" stroke="#fff" stroke-width="0.5"/>
<circle cx="505.32" cy="73.72" r="2.6" fill="#008000" stroke="#fff" stroke-width="0.5"/>
<circle cx="541.89" cy="69.32" r="2.6" fill="#008000" stroke="#fff" stroke-width="0.5"/>
<circle cx="547.2" cy="70.08" r="2.6" fill="#ffa500" stroke="#fff" stroke-width="0.5"/>
<circle cx="553.73" cy="69.32" r="2.6" fill="#008000" stroke="#fff" stroke-width="0.5"/>
<circle cx="561.31" cy="67.19" r="2.6" fill="#008000" stroke="#fff" stroke-width="0.5"/>
<circle cx="567.23" cy="65.22" r="2.6" fill="#008000" stroke="#fff" stroke-width="0.5"/>
<circle cx="575.88" cy="65.07" r="2.6" fill="#008000" stroke="#fff" stroke-width="0.5"/>
<circle cx="582.71" cy="65.83" r="2.6" fill="#008000" stroke="#fff" stroke-width="0.5"/>
<circle cx="588.63" cy="68.86" r="2.6" fill="#008000" stroke="#fff" stroke-width="0.5"/>
<circle cx="553.88" cy="74.93" r="2.6" fill="#008000" stroke="#fff" stroke-width="0.5"/>
<circle cx="562.68" cy="76.9" r="2.6" fill="#008000" stroke="#fff" stroke-width="0.5"/>
<circle cx="565.56" cy="72.35" r="2.6" fill="#008000" stroke="#fff" stroke-width="0.5"/>
<circle cx="569.36" cy="73.87" r="2.6" fill="#008000" stroke="#fff" stroke-width="0.5"/>
<circle cx="579.83" cy="71.14" r="2.6" fill="#008000" stroke="#fff" stroke-width="0.5"/>
<circle cx="578.46" cy="74.17" r="2.6" fill="#ffa500" stroke="#fff" stroke-width="0.5"/>
<circle cx="590.9" cy="73.11" r="2.6" fill="#008000" stroke="#fff" stroke-width="0.5"/>
<circle cx="592.42" cy="80.24" r="2.6" fill="#008000" stroke="#fff" stroke-width="0.5"/>
<circle cx="538.4" cy="82.22" r="2.6" fill="#008000" stroke="#fff" stroke-width="0.5"/>
<circle cx="542.19" cy="85.25" r="2.6" fill="#008000" stroke="#fff" stroke-width="0.5"/>
<circle cx="556.46" cy="84.95" r="2.6" fill="#008000" stroke="#fff" stroke-width="0.5"/>
<circle cx="576.34" cy="87.07" r="2.6" fill="#ffa500" stroke="#fff" stroke-width="0.5"/>
<circle cx="590.14" cy="91.17" r="2.6" fill="#ffa500" stroke="#fff" stroke-width="0.5"/>
<circle cx="561.46" cy="91.47" r="2.6" fill="#008000" stroke="#fff" stroke-width="0.5"/>
<circle cx="563.89" cy="92.69" r="2.6" fill="#ffa500" stroke="#fff" stroke-width="0.5"/>
<circle cx="577.25" cy="92.38" r="2.6" fill="#008000" stroke="#fff" stroke-width="0.5"/>
<circle cx="567.84" cy="96.93" r="2.6" fill="#008000" stroke="#fff" stroke-width="0.5"/>
<circle cx="538.25" cy="95.57" r="2.6" fill="#ffa500" stroke="#fff" stroke-width="0.5"/>
<circle cx="582.41" cy="98.45" r="2.6" fill="#ffa500" stroke="#fff" stroke-width="0.5"/>
<circle cx="589.69" cy="98.91" r="2.6" fill="#ffa500" stroke="#fff" stroke-width="0.5"/>
<circle cx="559.64" cy="103.31" r="2.6" fill="#008000" stroke="#fff" stroke-width="0.5"/>
<circle cx="562.68" cy="104.98" r="2.6" fill="#008000" stroke="#fff" stroke-width="0.5"/>
<circle cx="583.62" cy="103" r="2.6" fill="#ffa500" stroke="#fff" stroke-width="0.5"/>
<circle cx="511.69" cy="106.19" r="2.6" fill="#008000" stroke="#fff" stroke-width="0.5"/>
<circle cx="525.96" cy="105.43" r="2.6" fill="#ffa500" stroke="#fff" stroke-width="0.5"/>
<circle cx="522.31" cy="108.92" r="2.6" fill="#008000" stroke="#fff" stroke-width="0.5"/>
<circle cx="528.38" cy="113.32" r="2.6" fill="#008000" stroke="#fff" stroke-width="0.5"/>
<circle cx="537.94" cy="109.07" r="2.6" fill="#008000" stroke="#fff" stroke-width="0.5"/>
<circle cx="541.13" cy="109.68" r="2.6" fill="#ffa500" stroke="#fff" stroke-width="0.5"/>
<circle cx="543.25" cy="114.08" r="2.6" fill="#ffa500" stroke="#fff" stroke-width="0.5"/>
<circle cx="570.57" cy="108.77" r="2.6" fill="#ffa500" stroke="#fff" stroke-width="0.5"/>
<circle cx="590.75" cy="107.1" r="2.6" fill="#ffa500" stroke="#fff" stroke-width="0.5"/>
<circle cx="584.23" cy="109.98" r="2.6" fill="#008000" stroke="#fff" stroke-width="0.5"/>
<circle cx="500.31" cy="110.9" r="2.6" fill="#0000ff" stroke="#fff" stroke-width="0.5"/>
<circle cx="500.77" cy="115.14" r="2.6" fill="#008000" stroke="#fff" stroke-width="0.5"/>
<circle cx="501.83" cy="116.51" r="2.6" fill="#008000" stroke="#fff" stroke-width="0.5"/>
<circle cx="522.01" cy="116.81" r="2.6" fill="#ffa500" stroke="#fff" stroke-width="0.5"/>
<circle cx="556" cy="115.6" r="2.6" fill="#008000" stroke="#fff" stroke-width="0.5"/>
<circle cx="561.31" cy="113.47" r="2.6" fill="#ffa500" stroke="#fff" stroke-width="0.5"/>
<circle cx="571.48" cy="117.12" r="2.6" fill="#008000" stroke="#fff" stroke-width="0.5"/>
<circle cx="576.94" cy="116.51" r="2.6" fill="#008000" stroke="#fff" stroke-width="0.5"/>
<circle cx="584.23" cy="118.63" r="2.6" fill="#008000" stroke="#fff" stroke-width="0.5"/>
<circle cx="541.59" cy="118.79" r="2.6" fill="#008000" stroke="#fff" stroke-width="0.5"/>
<circle cx="622.94" cy="33.2" r="2.6" fill="#008000" stroke="#fff" stroke-width="0.5"/>
<circle cx="609.43" cy="36.24" r="2.6" fill="#008000" stroke="#fff" stroke-width="0.5"/>
<circle cx="616.71" cy="36.24" r="2.6" fill="#008000" stroke="#fff" stroke-width="0.5"/>
<circle cx="629.01" cy="36.39" r="2.6" fill="#008000" stroke="#fff" stroke-width="0.5"/>
<circle cx="637.05" cy="40.03" r="2.6" fill="#008000" stroke="#fff" stroke-width="0.5"/>
<circle cx="600.02" cy="43.37" r="2.6" fill="#008000" stroke="#fff" stroke-width="0.5"/>
<circle cx="594.26" cy="45.8" r="2.6" fill="#008000" stroke="#fff" stroke-width="0.5"/>
<circle cx="599.11" cy="48.07" r="2.6" fill="#008000" stroke="#fff" stroke-width="0.5"/>
<circle cx="608.52" cy="44.28" r="2.6" fill="#008000" stroke="#fff" stroke-width="0.5"/>
<circle cx="620.05" cy="45.19" r="2.6" fill="#008000" stroke="#fff" stroke-width="0.5"/>
<circle cx="624" cy="47.31" r="2.6" fill="#008000" stroke="#fff" stroke-width="0.5"/>
<circle cx="632.04" cy="43.22" r="2.6" fill="#008000" stroke="#fff" stroke-width="0.5"/>
<circle cx="636.14" cy="46.71" r="2.6" fill="#008000" stroke="#fff" stroke-width="0.5"/>
<circle cx="641.15" cy="44.73" r="2.6" fill="#008000" stroke="#fff" stroke-width="0.5"/>
<circle cx="643.12" cy="48.07" r="2.6" fill="#008000" stroke="#fff" stroke-width="0.5"/>
<circle cx="652.68" cy="45.49" r="2.6" fill="#008000" stroke="#fff" stroke-width="0.5"/>
<circle cx="655.71" cy="45.19" r="2.6" fill="#008000" stroke="#fff" stroke-width="0.5"/>
<circle cx="599.11" cy="55.96" r="2.6" fill="#008000" stroke="#fff" stroke-width="0.5"/>
<circle cx="614.14" cy="57.63" r="2.6" fill="#008000" stroke="#fff" stroke-width="0.5"/>
<circle cx="616.11" cy="55.51" r="2.6" fill="#ffa500" stroke="#fff" stroke-width="0.5"/>
<circle cx="626.27" cy="55.96" r="2.6" fill="#008000" stroke="#fff" stroke-width="0.5"/>
<circle cx="628.4" cy="59" r="2.6" fill="#008000" stroke="#fff" stroke-width="0.5"/>
<circle cx="632.8" cy="52.63" r="2.6" fill="#008000" stroke="#fff" stroke-width="0.5"/>
<circle cx="638.41" cy="54.14" r="2.6" fill="#008000" stroke="#fff" stroke-width="0.5"/>
<circle cx="641.6" cy="55.2" r="2.6" fill="#008000" stroke="#fff" stroke-width="0.5"/>
<circle cx="653.74" cy="53.69" r="2.6" fill="#008000" stroke="#fff" stroke-width="0.5"/>
<circle cx="634.92" cy="59.45" r="2.6" fill="#008000" stroke="#fff" stroke-width="0.5"/>
<circle cx="639.32" cy="61.27" r="2.6" fill="#008000" stroke="#fff" stroke-width="0.5"/>
<circle cx="649.19" cy="59.15" r="2.6" fill="#008000" stroke="#fff" stroke-width="0.5"/>
<circle cx="656.47" cy="62.79" r="2.6" fill="#008000" stroke="#fff" stroke-width="0.5"/>
<circle cx="646.61" cy="64.61" r="2.6" fill="#008000" stroke="#fff" stroke-width="0.5"/>
<circle cx="618.08" cy="70.83" r="2.6" fill="#008000" stroke="#fff" stroke-width="0.5"/>
<circle cx="630.52" cy="67.34" r="2.6" fill="#008000" stroke="#fff" stroke-width="0.5"/>
<circle cx="634.01" cy="68.25" r="2.6" fill="#008000" stroke="#fff" stroke-width="0.5"/>
<circle cx="631.43" cy="70.83" r="2.6" fill="#008000" stroke="#fff" stroke-width="0.5"/>
<circle cx="637.35" cy="72.2" r="2.6" fill="#008000" stroke="#fff" stroke-width="0.5"/>
<circle cx="654.2" cy="70.68" r="2.6" fill="#008000" stroke="#fff" stroke-width="0.5"/>
<circle cx="605.94" cy="74.63" r="2.6" fill="#ffa500" stroke="#fff" stroke-width="0.5"/>
<circle cx="599.42" cy="78.42" r="2.6" fill="#008000" stroke="#fff" stroke-width="0.5"/>
<circle cx="615.8" cy="77.97" r="2.6" fill="#008000" stroke="#fff" stroke-width="0.5"/>
<circle cx="623.54" cy="77.06" r="2.6" fill="#008000" stroke="#fff" stroke-width="0.5"/>
<circle cx="629.92" cy="75.54" r="2.6" fill="#008000" stroke="#fff" stroke-width="0.5"/>
<circle cx="651.31" cy="75.24" r="2.6" fill="#008000" stroke="#fff" stroke-width="0.5"/>
<circle cx="651.92" cy="78.57" r="2.6" fill="#008000" stroke="#fff" stroke-width="0.5"/>
<circle cx="610.19" cy="85.25" r="2.6" fill="#008000" stroke="#fff" stroke-width="0.5"/>
<circle cx="616.26" cy="86.31" r="2.6" fill="#008000" stroke="#fff" stroke-width="0.5"/>
<circle cx="624" cy="85.71" r="2.6" fill="#008000" stroke="#fff" stroke-width="0.5"/>
<circle cx="629.76" cy="86.46" r="2.6" fill="#008000" stroke="#fff" stroke-width="0.5"/>
<circle cx="635.08" cy="82.52" r="2.6" fill="#008000" stroke="#fff" stroke-width="0.5"/>
<circle cx="638.41" cy="81.46" r="2.6" fill="#008000" stroke="#fff" stroke-width="0.5"/>
<circle cx="644.79" cy="82.67" r="2.6" fill="#008000" stroke="#fff" stroke-width="0.5"/>
<circle cx="648.13" cy="81.31" r="2.6" fill="#008000" stroke="#fff" stroke-width="0.5"/>
<circle cx="634.32" cy="89.8" r="2.6" fill="#008000" stroke="#fff" stroke-width="0.5"/>
<circle cx="592.59" cy="98.3" r="2.6" fill="#008000" stroke="#fff" stroke-width="0.5"/>
<circle cx="597.29" cy="94.66" r="2.6" fill="#008000" stroke="#fff" stroke-width="0.5"/>
<circle cx="613.53" cy="95.72" r="2.6" fill="#008000" stroke="#fff" stroke-width="0.5"/>
<circle cx="653.89" cy="96.33" r="2.6" fill="#008000" stroke="#fff" stroke-width="0.5"/>
<circle cx="623.39" cy="99.67" r="2.6" fill="#008000" stroke="#fff" stroke-width="0.5"/>
<circle cx="622.03" cy="101.64" r="2.6" fill="#008000" stroke="#fff" stroke-width="0.5"/>
<circle cx="641.75" cy="99.67" r="2.6" fill="#008000" stroke="#fff" stroke-width="0.5"/>
<circle cx="647.97" cy="104.37" r="2.6" fill="#008000" stroke="#fff" stroke-width="0.5"/>
<circle cx="650.86" cy="103.31" r="2.6" fill="#008000" stroke="#fff" stroke-width="0.5"/>
<circle cx="608.07" cy="107.71" r="2.6" fill="#008000" stroke="#fff" stroke-width="0.5"/>
<circle cx="653.29" cy="111.65" r="2.6" fill="#008000" stroke="#fff" stroke-width="0.5"/>
<circle cx="641.6" cy="111.05" r="2.6" fill="#008000" stroke="#fff" stroke-width="0.5"/>
<circle cx="640.39" cy="112.56" r="2.6" fill="#008000" stroke="#fff" stroke-width="0.5"/>
<circle cx="602.6" cy="117.12" r="2.6" fill="#008000" stroke="#fff" stroke-width="0.5"/>
<circle cx="463.13" cy="120.93" r="2.6" fill="#008000" stroke="#fff" stroke-width="0.5"/>
<circle cx="467.83" cy="122.14" r="2.6" fill="#008000" stroke="#fff" stroke-width="0.5"/>
<circle cx="471.32" cy="120.02" r="2.6" fill="#008000" stroke="#fff" stroke-width="0.5"/>
<circle cx="476.33" cy="117.13" r="2.6" fill="#008000" stroke="#fff" stroke-width="0.5"/>
<circle cx="477.54" cy="115.01" r="2.6" fill="#008000" stroke="#fff" stroke-width="0.5"/>
<circle cx="477.54" cy="126.84" r="2.6" fill="#008000" stroke="#fff" stroke-width="0.5"/>
<circle cx="473.9" cy="131.7" r="2.6" fill="#008000" stroke="#fff" stroke-width="0.5"/>
<circle cx="472.99" cy="137.01" r="2.6" fill="#008000" stroke="#fff" stroke-width="0.5"/>
<circle cx="482.09" cy="134.43" r="2.6" fill="#008000" stroke="#fff" stroke-width="0.5"/>
<circle cx="482.09" cy="138.53" r="2.6" fill="#008000" stroke="#fff" stroke-width="0.5"/>
<circle cx="489.07" cy="120.17" r="2.6" fill="#008000" stroke="#fff" stroke-width="0.5"/>
<circle cx="491.05" cy="124.11" r="2.6" fill="#008000" stroke="#fff" stroke-width="0.5"/>
<circle cx="497.88" cy="123.66" r="2.6" fill="#ffa500" stroke="#fff" stroke-width="0.5"/>
<circle cx="494.84" cy="128.82" r="2.6" fill="#ffa500" stroke="#fff" stroke-width="0.5"/>
<circle cx="490.29" cy="130.64" r="2.6" fill="#008000" stroke="#fff" stroke-width="0.5"/>
<circle cx="489.68" cy="136.71" r="2.6" fill="#ffa500" stroke="#fff" stroke-width="0.5"/>
<circle cx="470.11" cy="146.42" r="2.6" fill="#008000" stroke="#fff" stroke-width="0.5"/>
<circle cx="477.24" cy="149.3" r="2.6" fill="#ffa500" stroke="#fff" stroke-width="0.5"/>
<circle cx="473.29" cy="153.1" r="2.6" fill="#008000" stroke="#fff" stroke-width="0.5"/>
<circle cx="470.86" cy="155.83" r="2.6" fill="#ffa500" stroke="#fff" stroke-width="0.5"/>
<circle cx="427.47" cy="160.68" r="2.6" fill="#008000" stroke="#fff" stroke-width="0.5"/>
<circle cx="439" cy="162.2" r="2.6" fill="#008000" stroke="#fff" stroke-width="0.5"/>
<circle cx="441.58" cy="159.17" r="2.6" fill="#ffa500" stroke="#fff" stroke-width="0.5"/>
<circle cx="432.78" cy="167.97" r="2.6" fill="#008000" stroke="#fff" stroke-width="0.5"/>
<circle cx="430.35" cy="170.55" r="2.6" fill="#ffa500" stroke="#fff" stroke-width="0.5"/>
<circle cx="424.73" cy="174.95" r="2.6" fill="#008000" stroke="#fff" stroke-width="0.5"/>
<circle cx="421.7" cy="177.98" r="2.6" fill="#ffa500" stroke="#fff" stroke-width="0.5"/>
<circle cx="418.82" cy="181.02" r="2.6" fill="#008000" stroke="#fff" stroke-width="0.5"/>
<circle cx="423.82" cy="182.38" r="2.6" fill="#ffa500" stroke="#fff" stroke-width="0.5"/>
<circle cx="418.36" cy="185.27" r="2.6" fill="#008000" stroke="#fff" stroke-width="0.5"/>
<circle cx="429.74" cy="179.35" r="2.6" fill="#008000" stroke="#fff" stroke-width="0.5"/>
<circle cx="430.35" cy="184.05" r="2.6" fill="#ffa500" stroke="#fff" stroke-width="0.5"/>
<circle cx="426.25" cy="186.78" r="2.6" fill="#ff0000" stroke="#fff" stroke-width="0.5"/>
<circle cx="433.08" cy="188.6" r="2.6" fill="#ffa500" stroke="#fff" stroke-width="0.5"/>
<circle cx="436.12" cy="190.88" r="2.6" fill="#ffa500" stroke="#fff" stroke-width="0.5"/>
<circle cx="421.4" cy="191.18" r="2.6" fill="#008000" stroke="#fff" stroke-width="0.5"/>
<circle cx="432.17" cy="193.31" r="2.6" fill="#ffa500" stroke="#fff" stroke-width="0.5"/>
<circle cx="430.05" cy="196.34" r="2.6" fill="#008000" stroke="#fff" stroke-width="0.5"/>
<circle cx="415.63" cy="196.49" r="2.6" fill="#008000" stroke="#fff" stroke-width="0.5"/>
<circle cx="420.03" cy="198.62" r="2.6" fill="#008000" stroke="#fff" stroke-width="0.5"/>
<circle cx="442.79" cy="171.91" r="2.6" fill="#008000" stroke="#fff" stroke-width="0.5"/>
<circle cx="444.61" cy="172.22" r="2.6" fill="#ffa500" stroke="#fff" stroke-width="0.5"/>
<circle cx="439.91" cy="180.11" r="2.6" fill="#ffa500" stroke="#fff" stroke-width="0.5"/>
<circle cx="444.16" cy="187.85" r="2.6" fill="#008000" stroke="#fff" stroke-width="0.5"/>
<circle cx="441.12" cy="205.3" r="2.6" fill="#ffa500" stroke="#fff" stroke-width="0.5"/>
<circle cx="468.89" cy="169.03" r="2.6" fill="#008000" stroke="#fff" stroke-width="0.5"/>
<circle cx="479.51" cy="167.66" r="2.6" fill="#ffa500" stroke="#fff" stroke-width="0.5"/>
<circle cx="488.62" cy="164.17" r="2.6" fill="#ffa500" stroke="#fff" stroke-width="0.5"/>
<circle cx="491.2" cy="170.09" r="2.6" fill="#008000" stroke="#fff" stroke-width="0.5"/>
<circle cx="489.68" cy="171.46" r="2.6" fill="#ffa500" stroke="#fff" stroke-width="0.5"/>
<circle cx="484.98" cy="175.86" r="2.6" fill="#008000" stroke="#fff" stroke-width="0.5"/>
<circle cx="497.57" cy="171.91" r="2.6" fill="#0000ff" stroke="#fff" stroke-width="0.5"/>
<circle cx="494.08" cy="177.53" r="2.6" fill="#0000ff" stroke="#fff" stroke-width="0.5"/>
<circle cx="498.33" cy="178.29" r="2.6" fill="#0000ff" stroke="#fff" stroke-width="0.5"/>
<circle cx="495.6" cy="182.53" r="2.6" fill="#0000ff" stroke="#fff" stroke-width="0.5"/>
<circle cx="496.66" cy="184.66" r="2.6" fill="#008000" stroke="#fff" stroke-width="0.5"/>
<circle cx="464.8" cy="180.11" r="2.6" fill="#ffa500" stroke="#fff" stroke-width="0.5"/>
<circle cx="469.95" cy="180.11" r="2.6" fill="#008000" stroke="#fff" stroke-width="0.5"/>
<circle cx="469.65" cy="182.99" r="2.6" fill="#ffa500" stroke="#fff" stroke-width="0.5"/>
<circle cx="480.12" cy="179.04" r="2.6" fill="#ffa500" stroke="#fff" stroke-width="0.5"/>
<circle cx="471.62" cy="188.15" r="2.6" fill="#008000" stroke="#fff" stroke-width="0.5"/>
<circle cx="480.73" cy="187.85" r="2.6" fill="#ffa500" stroke="#fff" stroke-width="0.5"/>
<circle cx="484.67" cy="186.18" r="2.6" fill="#008000" stroke="#fff" stroke-width="0.5"/>
<circle cx="490.44" cy="186.33" r="2.6" fill="#ffa500" stroke="#fff" stroke-width="0.5"/>
<circle cx="487.56" cy="195.74" r="2.6" fill="#008000" stroke="#fff" stroke-width="0.5"/>
<circle cx="464.34" cy="197.1" r="2.6" fill="#ffa500" stroke="#fff" stroke-width="0.5"/>
<circle cx="466.77" cy="201.05" r="2.6" fill="#ffa500" stroke="#fff" stroke-width="0.5"/>
<circle cx="468.59" cy="203.02" r="2.6" fill="#008000" stroke="#fff" stroke-width="0.5"/>
<circle cx="476.02" cy="201.81" r="2.6" fill="#008000" stroke="#fff" stroke-width="0.5"/>
<circle cx="479.97" cy="205.9" r="2.6" fill="#ffa500" stroke="#fff" stroke-width="0.5"/>
<circle cx="500.01" cy="129.27" r="2.6" fill="#ffa500" stroke="#fff" stroke-width="0.5"/>
<circle cx="503.95" cy="128.06" r="2.6" fill="#ffa500" stroke="#fff" stroke-width="0.5"/>
<circle cx="501.98" cy="130.79" r="2.6" fill="#008000" stroke="#fff" stroke-width="0.5"/>
<circle cx="507.44" cy="133.07" r="2.6" fill="#ffa500" stroke="#fff" stroke-width="0.5"/>
<circle cx="498.34" cy="135.8" r="2.6" fill="#ffa500" stroke="#fff" stroke-width="0.5"/>
<circle cx="515.33" cy="121.68" r="2.6" fill="#0000ff" stroke="#fff" stroke-width="0.5"/>
<circle cx="525.96" cy="126.24" r="2.6" fill="#008000" stroke="#fff" stroke-width="0.5"/>
<circle cx="529.9" cy="126.69" r="2.6" fill="#ffa500" stroke="#fff" stroke-width="0.5"/>
<circle cx="540.37" cy="128.21" r="2.6" fill="#ffa500" stroke="#fff" stroke-width="0.5"/>
<circle cx="537.34" cy="133.07" r="2.6" fill="#ffa500" stroke="#fff" stroke-width="0.5"/>
<circle cx="590.45" cy="119.41" r="2.6" fill="#008000" stroke="#fff" stroke-width="0.5"/>
<circle cx="589.99" cy="122.14" r="2.6" fill="#ffa500" stroke="#fff" stroke-width="0.5"/>
<circle cx="578.46" cy="124.57" r="2.6" fill="#008000" stroke="#fff" stroke-width="0.5"/>
<circle cx="524.14" cy="137.77" r="2.6" fill="#0000ff" stroke="#fff" stroke-width="0.5"/>
<circle cx="508.35" cy="143.38" r="2.6" fill="#0000ff" stroke="#fff" stroke-width="0.5"/>
<circle cx="510.78" cy="145.81" r="2.6" fill="#0000ff" stroke="#fff" stroke-width="0.5"/>
<circle cx="516.85" cy="145.96" r="2.6" fill="#0000ff" stroke="#fff" stroke-width="0.5"/>
<circle cx="523.22" cy="146.87" r="2.6" fill="#0000ff" stroke="#fff" stroke-width="0.5"/>
<circle cx="500.92" cy="148.54" r="2.6" fill="#0000ff" stroke="#fff" stroke-width="0.5"/>
<circle cx="509.87" cy="152.49" r="2.6" fill="#ffa500" stroke="#fff" stroke-width="0.5"/>
<circle cx="559.64" cy="131.55" r="2.6" fill="#0000ff" stroke="#fff" stroke-width="0.5"/>
<circle cx="558.13" cy="133.98" r="2.6" fill="#0000ff" stroke="#fff" stroke-width="0.5"/>
<circle cx="567.69" cy="126.54" r="2.6" fill="#ffa500" stroke="#fff" stroke-width="0.5"/>
<circle cx="575.88" cy="132" r="2.6" fill="#ffa500" stroke="#fff" stroke-width="0.5"/>
<circle cx="577.85" cy="133.52" r="2.6" fill="#ffa500" stroke="#fff" stroke-width="0.5"/>
<circle cx="563.59" cy="140.05" r="2.6" fill="#0000ff" stroke="#fff" stroke-width="0.5"/>
<circle cx="565.26" cy="145.2" r="2.6" fill="#0000ff" stroke="#fff" stroke-width="0.5"/>
<circle cx="569.05" cy="144.45" r="2.6" fill="#0000ff" stroke="#fff" stroke-width="0.5"/>
<circle cx="566.17" cy="149" r="2.6" fill="#0000ff" stroke="#fff" stroke-width="0.5"/>
<circle cx="556.76" cy="145.36" r="2.6" fill="#ffa500" stroke="#fff" stroke-width="0.5"/>
<circle cx="560.86" cy="156.43" r="2.6" fill="#0000ff" stroke="#fff" stroke-width="0.5"/>
<circle cx="592.88" cy="141.87" r="2.6" fill="#008000" stroke="#fff" stroke-width="0.5"/>
<circle cx="591.66" cy="155.52" r="2.6" fill="#ffa500" stroke="#fff" stroke-width="0.5"/>
<circle cx="582.1" cy="166.9" r="2.6" fill="#0000ff" stroke="#fff" stroke-width="0.5"/>
<circle cx="585.14" cy="169.18" r="2.6" fill="#008000" stroke="#fff" stroke-width="0.5"/>
<circle cx="503.5" cy="179.04" r="2.6" fill="#0000ff" stroke="#fff" stroke-width="0.5"/>
<circle cx="630.37" cy="119.71" r="2.6" fill="#008000" stroke="#fff" stroke-width="0.5"/>
<circle cx="644.64" cy="120.93" r="2.6" fill="#008000" stroke="#fff" stroke-width="0.5"/>
<circle cx="600.78" cy="128.51" r="2.6" fill="#008000" stroke="#fff" stroke-width="0.5"/>
<circle cx="642.81" cy="128.36" r="2.6" fill="#008000" stroke="#fff" stroke-width="0.5"/>
<circle cx="596.38" cy="135.8" r="2.6" fill="#008000" stroke="#fff" stroke-width="0.5"/>
<circle cx="599.57" cy="145.2" r="2.6" fill="#008000" stroke="#fff" stroke-width="0.5"/>
<circle cx="605.33" cy="148.09" r="2.6" fill="#008000" stroke="#fff" stroke-width="0.5"/>
<circle cx="602.45" cy="158.25" r="2.6" fill="#ff0000" stroke="#fff" stroke-width="0.5"/>
<circle cx="484.22" cy="248.41" r="2.6" fill="#ff0000" stroke="#fff" stroke-width="0.5"/>
<circle cx="492.26" cy="245.52" r="2.6" fill="#ff0000" stroke="#fff" stroke-width="0.5"/>
<circle cx="458.73" cy="257.06" r="2.6" fill="#008000" stroke="#fff" stroke-width="0.5"/>
<circle cx="457.21" cy="259.64" r="2.6" fill="#008000" stroke="#fff" stroke-width="0.5"/>
<circle cx="469.8" cy="258.88" r="2.6" fill="#0000ff" stroke="#fff" stroke-width="0.5"/>
<circle cx="451.75" cy="265.86" r="2.6" fill="#008000" stroke="#fff" stroke-width="0.5"/>
<circle cx="452.66" cy="269.65" r="2.6" fill="#ffa500" stroke="#fff" stroke-width="0.5"/>
<circle cx="475.57" cy="262.06" r="2.6" fill="#ff0000" stroke="#fff" stroke-width="0.5"/>
<circle cx="481.94" cy="264.8" r="2.6" fill="#ff0000" stroke="#fff" stroke-width="0.5"/>
<circle cx="475.11" cy="267.22" r="2.6" fill="#ff0000" stroke="#fff" stroke-width="0.5"/>
<circle cx="477.09" cy="271.93" r="2.6" fill="#ff0000" stroke="#fff" stroke-width="0.5"/>
<circle cx="485.43" cy="269.8" r="2.6" fill="#ff0000" stroke="#fff" stroke-width="0.5"/>
<circle cx="490.14" cy="261.46" r="2.6" fill="#ff0000" stroke="#fff" stroke-width="0.5"/>
<circle cx="493.63" cy="259.79" r="2.6" fill="#ff0000" stroke="#fff" stroke-width="0.5"/>
<circle cx="495.9" cy="262.22" r="2.6" fill="#ff0000" stroke="#fff" stroke-width="0.5"/>
<circle cx="492.26" cy="269.95" r="2.6" fill="#ff0000" stroke="#fff" stroke-width="0.5"/>
<circle cx="447.5" cy="277.54" r="2.6" fill="#ff0000" stroke="#fff" stroke-width="0.5"/>
<circle cx="454.63" cy="277.39" r="2.6" fill="#ff0000" stroke="#fff" stroke-width="0.5"/>
<circle cx="457.97" cy="275.57" r="2.6" fill="#ff0000" stroke="#fff" stroke-width="0.5"/>
<circle cx="458.57" cy="279.21" r="2.6" fill="#ff0000" stroke="#fff" stroke-width="0.5"/>
<circle cx="465.25" cy="277.54" r="2.6" fill="#ff0000" stroke="#fff" stroke-width="0.5"/>
<circle cx="469.5" cy="274.05" r="2.6" fill="#ff0000" stroke="#fff" stroke-width="0.5"/>
<circle cx="472.23" cy="277.09" r="2.6" fill="#ff0000" stroke="#fff" stroke-width="0.5"/>
<circle cx="474.05" cy="280.42" r="2.6" fill="#ff0000" stroke="#fff" stroke-width="0.5"/>
<circle cx="477.69" cy="275.87" r="2.6" fill="#ff0000" stroke="#fff" stroke-width="0.5"/>
<circle cx="481.79" cy="279.97" r="2.6" fill="#ff0000" stroke="#fff" stroke-width="0.5"/>
<circle cx="485.89" cy="277.69" r="2.6" fill="#ff0000" stroke="#fff" stroke-width="0.5"/>
<circle cx="489.83" cy="274.51" r="2.6" fill="#ff0000" stroke="#fff" stroke-width="0.5"/>
<circle cx="490.74" cy="279.36" r="2.6" fill="#ff0000" stroke="#fff" stroke-width="0.5"/>
<circle cx="495.6" cy="275.72" r="2.6" fill="#ff0000" stroke="#fff" stroke-width="0.5"/>
<circle cx="516.1" cy="211.38" r="2.6" fill="#ff0000" stroke="#fff" stroke-width="0.5"/>
<circle cx="514.58" cy="213.05" r="2.6" fill="#ff0000" stroke="#fff" stroke-width="0.5"/>
<circle cx="523.38" cy="220.03" r="2.6" fill="#ff0000" stroke="#fff" stroke-width="0.5"/>
<circle cx="523.99" cy="223.82" r="2.6" fill="#ff0000" stroke="#fff" stroke-width="0.5"/>
<circle cx="513.52" cy="229.74" r="2.6" fill="#0000ff" stroke="#fff" stroke-width="0.5"/>
<circle cx="510.49" cy="238.69" r="2.6" fill="#0000ff" stroke="#fff" stroke-width="0.5"/>
<circle cx="527.33" cy="236.87" r="2.6" fill="#ff0000" stroke="#fff" stroke-width="0.5"/>
<circle cx="534.16" cy="239" r="2.6" fill="#ff0000" stroke="#fff" stroke-width="0.5"/>
<circle cx="529.3" cy="240.97" r="2.6" fill="#ff0000" stroke="#fff" stroke-width="0.5"/>
<circle cx="540.99" cy="240.06" r="2.6" fill="#ff0000" stroke="#fff" stroke-width="0.5"/>
<circle cx="530.67" cy="244.92" r="2.6" fill="#ff0000" stroke="#fff" stroke-width="0.5"/>
<circle cx="525.36" cy="244.76" r="2.6" fill="#ff0000" stroke="#fff" stroke-width="0.5"/>
<circle cx="542.2" cy="244.31" r="2.6" fill="#ff0000" stroke="#fff" stroke-width="0.5"/>
<circle cx="544.93" cy="247.34" r="2.6" fill="#ff0000" stroke="#fff" stroke-width="0.5"/>
<circle cx="521.56" cy="247.5" r="2.6" fill="#ff0000" stroke="#fff" stroke-width="0.5"/>
<circle cx="519.89" cy="250.53" r="2.6" fill="#ff0000" stroke="#fff" stroke-width="0.5"/>
<circle cx="525.36" cy="249.47" r="2.6" fill="#ff0000" stroke="#fff" stroke-width="0.5"/>
<circle cx="528.69" cy="252.05" r="2.6" fill="#ff0000" stroke="#fff" stroke-width="0.5"/>
<circle cx="542.05" cy="250.08" r="2.6" fill="#ff0000" stroke="#fff" stroke-width="0.5"/>
<circle cx="537.5" cy="253.72" r="2.6" fill="#ff0000" stroke="#fff" stroke-width="0.5"/>
<circle cx="522.93" cy="255.08" r="2.6" fill="#ff0000" stroke="#fff" stroke-width="0.5"/>
<circle cx="507.75" cy="251.59" r="2.6" fill="#ff0000" stroke="#fff" stroke-width="0.5"/>
<circle cx="514.58" cy="252.2" r="2.6" fill="#ff0000" stroke="#fff" stroke-width="0.5"/>
<circle cx="502.59" cy="258.12" r="2.6" fill="#ff0000" stroke="#fff" stroke-width="0.5"/>
<circle cx="506.84" cy="261.76" r="2.6" fill="#ff0000" stroke="#fff" stroke-width="0.5"/>
<circle cx="513.07" cy="260.24" r="2.6" fill="#ff0000" stroke="#fff" stroke-width="0.5"/>
<circle cx="510.33" cy="263.73" r="2.6" fill="#ff0000" stroke="#fff" stroke-width="0.5"/>
<circle cx="505.93" cy="266.01" r="2.6" fill="#ff0000" stroke="#fff" stroke-width="0.5"/>
<circle cx="501.53" cy="268.44" r="2.6" fill="#ff0000" stroke="#fff" stroke-width="0.5"/>
<circle cx="509.73" cy="268.74" r="2.6" fill="#ff0000" stroke="#fff" stroke-width="0.5"/>
<circle cx="512.46" cy="271.62" r="2.6" fill="#ff0000" stroke="#fff" stroke-width="0.5"/>
<circle cx="518.38" cy="270.11" r="2.6" fill="#ff0000" stroke="#fff" stroke-width="0.5"/>
<circle cx="646" cy="54.29" r="2.6" fill="#800080" stroke="#fff" stroke-width="0.5"/>
<circle cx="628.4" cy="94.51" r="2.6" fill="#800080" stroke="#fff" stroke-width="0.5"/>
<circle cx="669.22" cy="96.18" r="2.6" fill="#800080" stroke="#fff" stroke-width="0.5"/>
<circle cx="669.67" cy="98.3" r="2.6" fill="#800080" stroke="#fff" stroke-width="0.5"/>
<circle cx="649.34" cy="111.05" r="2.6" fill="#800080" stroke="#fff" stroke-width="0.5"/>
<circle cx="646.76" cy="118.63" r="2.6" fill="#800080" stroke="#fff" stroke-width="0.5"/>
<circle cx="583.77" cy="162.05" r="2.6" fill="#800080" stroke="#fff" stroke-width="0.5"/>
<circle cx="634.92" cy="131.55" r="2.6" fill="#800080" stroke="#fff" stroke-width="0.5"/>
<circle cx="599.26" cy="150.21" r="2.6" fill="#800080" stroke="#fff" stroke-width="0.5"/>
<circle cx="515.95" cy="239.91" r="2.6" fill="#800080" stroke="#fff" stroke-width="0.5"/>
<circle cx="521.87" cy="262.97" r="2.6" fill="#800080" stroke="#fff" stroke-width="0.5"/>
<circle cx="505.02" cy="272.38" r="2.6" fill="#800080" stroke="#fff" stroke-width="0.5"/>
<rect x="403.3" y="21" width="279" height="271.4" fill="none" stroke="#555" stroke-width="1"/>
<line x1="399.8" y1="40.7" x2="403.3" y2="40.7" stroke="#444" stroke-width="1"/>
<text x="397.3" y="44" text-anchor="end" class="tl">15</text>
<line x1="399.8" y1="74.2" x2="403.3" y2="74.2" stroke="#444" stroke-width="1"/>
<text x="397.3" y="77.5" text-anchor="end" class="tl">10</text>
<line x1="399.8" y1="107.7" x2="403.3" y2="107.7" stroke="#444" stroke-width="1"/>
<text x="397.3" y="111" text-anchor="end" class="tl">5</text>
<line x1="399.8" y1="141.2" x2="403.3" y2="141.2" stroke="#444" stroke-width="1"/>
<text x="397.3" y="144.5" text-anchor="end" class="tl">0</text>
<line x1="399.8" y1="174.7" x2="403.3" y2="174.7" stroke="#444" stroke-width="1"/>
<text x="397.3" y="178" text-anchor="end" class="tl">− 5</text>
<line x1="399.8" y1="208.2" x2="403.3" y2="208.2" stroke="#444" stroke-width="1"/>
<text x="397.3" y="211.5" text-anchor="end" class="tl">− 10</text>
<line x1="399.8" y1="241.7" x2="403.3" y2="241.7" stroke="#444" stroke-width="1"/>
<text x="397.3" y="245" text-anchor="end" class="tl">− 15</text>
<line x1="399.8" y1="275.2" x2="403.3" y2="275.2" stroke="#444" stroke-width="1"/>
<text x="397.3" y="278.5" text-anchor="end" class="tl">− 20</text>
<line x1="415.4" y1="292.4" x2="415.4" y2="295.9" stroke="#444" stroke-width="1"/>
<text x="415.4" y="305" text-anchor="middle" class="tl">− 20</text>
<line x1="448.55" y1="292.4" x2="448.55" y2="295.9" stroke="#444" stroke-width="1"/>
<text x="448.55" y="305" text-anchor="middle" class="tl">− 15</text>
<line x1="481.7" y1="292.4" x2="481.7" y2="295.9" stroke="#444" stroke-width="1"/>
<text x="481.7" y="305" text-anchor="middle" class="tl">− 10</text>
<line x1="514.85" y1="292.4" x2="514.85" y2="295.9" stroke="#444" stroke-width="1"/>
<text x="514.85" y="305" text-anchor="middle" class="tl">− 5</text>
<line x1="548" y1="292.4" x2="548" y2="295.9" stroke="#444" stroke-width="1"/>
<text x="548" y="305" text-anchor="middle" class="tl">0</text>
<line x1="581.15" y1="292.4" x2="581.15" y2="295.9" stroke="#444" stroke-width="1"/>
<text x="581.15" y="305" text-anchor="middle" class="tl">5</text>
<line x1="614.3" y1="292.4" x2="614.3" y2="295.9" stroke="#444" stroke-width="1"/>
<text x="614.3" y="305" text-anchor="middle" class="tl">10</text>
<line x1="647.45" y1="292.4" x2="647.45" y2="295.9" stroke="#444" stroke-width="1"/>
<text x="647.45" y="305" text-anchor="middle" class="tl">15</text>
<line x1="680.6" y1="292.4" x2="680.6" y2="295.9" stroke="#444" stroke-width="1"/>
<text x="680.6" y="305" text-anchor="middle" class="tl">20</text>
<text x="542.2" y="317" text-anchor="middle" class="al" textLength="24.2" lengthAdjust="spacingAndGlyphs">tSNE1</text>
<text transform="translate(374.6,157.3) rotate(-90)" text-anchor="middle" class="al" textLength="24.2" lengthAdjust="spacingAndGlyphs">tSNE2</text>
<rect x="407.3" y="25.4" width="60.2" height="75.5" rx="2" fill="#fff" fill-opacity="0.8" stroke="#d6d6d6" stroke-width="0.8"/>
<text x="437.3" y="34.8" text-anchor="middle" class="lg" textLength="31.6" lengthAdjust="spacing">Classes</text>
<circle cx="418.8" cy="44.6" r="3.05" fill="#ff0000"/>
<text x="433.9" y="47.2" class="lg" textLength="22.4" lengthAdjust="spacing">Basal</text>
<circle cx="418.8" cy="56.85" r="3.05" fill="#0000ff"/>
<text x="433.9" y="59.45" class="lg" textLength="19.7" lengthAdjust="spacing">Her2</text>
<circle cx="418.8" cy="69.1" r="3.05" fill="#008000"/>
<text x="433.9" y="71.7" class="lg" textLength="23.5" lengthAdjust="spacing">Lum A</text>
<circle cx="418.8" cy="81.35" r="3.05" fill="#ffa500"/>
<text x="433.9" y="83.95" class="lg" textLength="23.5" lengthAdjust="spacing">Lum B</text>
<circle cx="418.8" cy="93.6" r="3.05" fill="#800080"/>
<text x="433.9" y="96.2" class="lg" textLength="29.8" lengthAdjust="spacing">Normal</text>
<text x="-0.3" y="353.3" class="pl">c</text>
<circle cx="85.99" cy="394.29" r="2.6" fill="#0000ff" stroke="#fff" stroke-width="0.5"/>
<circle cx="98.73" cy="403.55" r="2.6" fill="#0000ff" stroke="#fff" stroke-width="0.5"/>
<circle cx="120.74" cy="390.5" r="2.6" fill="#ff0000" stroke="#fff" stroke-width="0.5"/>
<circle cx="133.18" cy="395.36" r="2.6" fill="#0000ff" stroke="#fff" stroke-width="0.5"/>
<circle cx="53.51" cy="409.01" r="2.6" fill="#0000ff" stroke="#fff" stroke-width="0.5"/>
<circle cx="69.9" cy="409.01" r="2.6" fill="#ff0000" stroke="#fff" stroke-width="0.5"/>
<circle cx="82.5" cy="415.69" r="2.6" fill="#ff0000" stroke="#fff" stroke-width="0.5"/>
<circle cx="74.45" cy="420.24" r="2.6" fill="#ff0000" stroke="#fff" stroke-width="0.5"/>
<circle cx="48.2" cy="421.76" r="2.6" fill="#0000ff" stroke="#fff" stroke-width="0.5"/>
<circle cx="54.42" cy="420.7" r="2.6" fill="#0000ff" stroke="#fff" stroke-width="0.5"/>
<circle cx="70.51" cy="425.4" r="2.6" fill="#0000ff" stroke="#fff" stroke-width="0.5"/>
<circle cx="104.2" cy="427.37" r="2.6" fill="#ff0000" stroke="#fff" stroke-width="0.5"/>
<circle cx="57.91" cy="434.05" r="2.6" fill="#0000ff" stroke="#fff" stroke-width="0.5"/>
<circle cx="75.36" cy="433.14" r="2.6" fill="#0000ff" stroke="#fff" stroke-width="0.5"/>
<circle cx="93.57" cy="434.96" r="2.6" fill="#0000ff" stroke="#fff" stroke-width="0.5"/>
<circle cx="99.64" cy="437.09" r="2.6" fill="#ff0000" stroke="#fff" stroke-width="0.5"/>
<circle cx="48.81" cy="439.51" r="2.6" fill="#0000ff" stroke="#fff" stroke-width="0.5"/>
<circle cx="82.65" cy="455.45" r="2.6" fill="#0000ff" stroke="#fff" stroke-width="0.5"/>
<circle cx="87.81" cy="458.94" r="2.6" fill="#0000ff" stroke="#fff" stroke-width="0.5"/>
<circle cx="92.51" cy="455.9" r="2.6" fill="#0000ff" stroke="#fff" stroke-width="0.5"/>
<circle cx="133.33" cy="456.81" r="2.6" fill="#0000ff" stroke="#fff" stroke-width="0.5"/>
<circle cx="196.01" cy="375.78" r="2.6" fill="#0000ff" stroke="#fff" stroke-width="0.5"/>
<circle cx="135.46" cy="404.01" r="2.6" fill="#ff0000" stroke="#fff" stroke-width="0.5"/>
<circle cx="141.84" cy="404.46" r="2.6" fill="#0000ff" stroke="#fff" stroke-width="0.5"/>
<circle cx="162.02" cy="408.25" r="2.6" fill="#0000ff" stroke="#fff" stroke-width="0.5"/>
<circle cx="155.34" cy="417.36" r="2.6" fill="#ff0000" stroke="#fff" stroke-width="0.5"/>
<circle cx="149.27" cy="425.4" r="2.6" fill="#0000ff" stroke="#fff" stroke-width="0.5"/>
<circle cx="191.15" cy="414.32" r="2.6" fill="#0000ff" stroke="#fff" stroke-width="0.5"/>
<circle cx="207.09" cy="410.99" r="2.6" fill="#0000ff" stroke="#fff" stroke-width="0.5"/>
<circle cx="228.18" cy="412.96" r="2.6" fill="#0000ff" stroke="#fff" stroke-width="0.5"/>
<circle cx="183.11" cy="426.46" r="2.6" fill="#ff0000" stroke="#fff" stroke-width="0.5"/>
<circle cx="181.9" cy="433.14" r="2.6" fill="#0000ff" stroke="#fff" stroke-width="0.5"/>
<circle cx="220.9" cy="440.58" r="2.6" fill="#ff0000" stroke="#fff" stroke-width="0.5"/>
<circle cx="216.95" cy="442.85" r="2.6" fill="#0000ff" stroke="#fff" stroke-width="0.5"/>
<circle cx="153.67" cy="446.8" r="2.6" fill="#0000ff" stroke="#fff" stroke-width="0.5"/>
<circle cx="191.61" cy="445.74" r="2.6" fill="#0000ff" stroke="#fff" stroke-width="0.5"/>
<circle cx="200.71" cy="452.41" r="2.6" fill="#ff0000" stroke="#fff" stroke-width="0.5"/>
<circle cx="151.24" cy="455.3" r="2.6" fill="#0000ff" stroke="#fff" stroke-width="0.5"/>
<circle cx="184.02" cy="458.03" r="2.6" fill="#0000ff" stroke="#fff" stroke-width="0.5"/>
<circle cx="232.59" cy="416.45" r="2.6" fill="#ff0000" stroke="#fff" stroke-width="0.5"/>
<circle cx="249.58" cy="415.54" r="2.6" fill="#0000ff" stroke="#fff" stroke-width="0.5"/>
<circle cx="239.87" cy="429.95" r="2.6" fill="#0000ff" stroke="#fff" stroke-width="0.5"/>
<circle cx="234.1" cy="434.66" r="2.6" fill="#ff0000" stroke="#fff" stroke-width="0.5"/>
<circle cx="236.53" cy="435.57" r="2.6" fill="#0000ff" stroke="#fff" stroke-width="0.5"/>
<circle cx="240.78" cy="447.71" r="2.6" fill="#0000ff" stroke="#fff" stroke-width="0.5"/>
<circle cx="268.55" cy="445.89" r="2.6" fill="#ff0000" stroke="#fff" stroke-width="0.5"/>
<circle cx="271.28" cy="449.68" r="2.6" fill="#0000ff" stroke="#fff" stroke-width="0.5"/>
<circle cx="53.82" cy="462.59" r="2.6" fill="#ff0000" stroke="#fff" stroke-width="0.5"/>
<circle cx="70.05" cy="475.03" r="2.6" fill="#0000ff" stroke="#fff" stroke-width="0.5"/>
<circle cx="88.72" cy="474.12" r="2.6" fill="#0000ff" stroke="#fff" stroke-width="0.5"/>
<circle cx="99.04" cy="474.42" r="2.6" fill="#0000ff" stroke="#fff" stroke-width="0.5"/>
<circle cx="100.55" cy="479.28" r="2.6" fill="#0000ff" stroke="#fff" stroke-width="0.5"/>
<circle cx="118.31" cy="497.49" r="2.6" fill="#0000ff" stroke="#fff" stroke-width="0.5"/>
<circle cx="104.35" cy="506.75" r="2.6" fill="#0000ff" stroke="#fff" stroke-width="0.5"/>
<circle cx="125.59" cy="508.11" r="2.6" fill="#0000ff" stroke="#fff" stroke-width="0.5"/>
<circle cx="120.74" cy="518.43" r="2.6" fill="#ff0000" stroke="#fff" stroke-width="0.5"/>
<circle cx="133.18" cy="522.83" r="2.6" fill="#0000ff" stroke="#fff" stroke-width="0.5"/>
<circle cx="115.42" cy="525.26" r="2.6" fill="#0000ff" stroke="#fff" stroke-width="0.5"/>
<circle cx="126.2" cy="529.81" r="2.6" fill="#ff0000" stroke="#fff" stroke-width="0.5"/>
<circle cx="119.22" cy="537.4" r="2.6" fill="#ff0000" stroke="#fff" stroke-width="0.5"/>
<circle cx="193.88" cy="468.51" r="2.6" fill="#ff0000" stroke="#fff" stroke-width="0.5"/>
<circle cx="158.53" cy="478.22" r="2.6" fill="#0000ff" stroke="#fff" stroke-width="0.5"/>
<circle cx="181.75" cy="481.71" r="2.6" fill="#ff0000" stroke="#fff" stroke-width="0.5"/>
<circle cx="199.04" cy="485.05" r="2.6" fill="#ff0000" stroke="#fff" stroke-width="0.5"/>
<circle cx="207.09" cy="486.26" r="2.6" fill="#ff0000" stroke="#fff" stroke-width="0.5"/>
<circle cx="222.87" cy="479.13" r="2.6" fill="#0000ff" stroke="#fff" stroke-width="0.5"/>
<circle cx="139.26" cy="488.23" r="2.6" fill="#0000ff" stroke="#fff" stroke-width="0.5"/>
<circle cx="140.62" cy="493.54" r="2.6" fill="#0000ff" stroke="#fff" stroke-width="0.5"/>
<circle cx="157.01" cy="491.87" r="2.6" fill="#ff0000" stroke="#fff" stroke-width="0.5"/>
<circle cx="174.01" cy="498.4" r="2.6" fill="#ff0000" stroke="#fff" stroke-width="0.5"/>
<circle cx="158.53" cy="502.34" r="2.6" fill="#0000ff" stroke="#fff" stroke-width="0.5"/>
<circle cx="180.53" cy="506.9" r="2.6" fill="#ff0000" stroke="#fff" stroke-width="0.5"/>
<circle cx="201.62" cy="510.69" r="2.6" fill="#0000ff" stroke="#fff" stroke-width="0.5"/>
<circle cx="211.34" cy="508.11" r="2.6" fill="#0000ff" stroke="#fff" stroke-width="0.5"/>
<circle cx="137.44" cy="519.04" r="2.6" fill="#0000ff" stroke="#fff" stroke-width="0.5"/>
<circle cx="143.51" cy="528.9" r="2.6" fill="#0000ff" stroke="#fff" stroke-width="0.5"/>
<circle cx="135.61" cy="540.13" r="2.6" fill="#0000ff" stroke="#fff" stroke-width="0.5"/>
<circle cx="207.85" cy="529.81" r="2.6" fill="#0000ff" stroke="#fff" stroke-width="0.5"/>
<circle cx="201.62" cy="534.97" r="2.6" fill="#0000ff" stroke="#fff" stroke-width="0.5"/>
<circle cx="221.65" cy="535.42" r="2.6" fill="#0000ff" stroke="#fff" stroke-width="0.5"/>
<circle cx="187.81" cy="542.56" r="2.6" fill="#0000ff" stroke="#fff" stroke-width="0.5"/>
<circle cx="203.9" cy="549.08" r="2.6" fill="#0000ff" stroke="#fff" stroke-width="0.5"/>
<circle cx="218.01" cy="552.27" r="2.6" fill="#0000ff" stroke="#fff" stroke-width="0.5"/>
<circle cx="237.9" cy="467.14" r="2.6" fill="#0000ff" stroke="#fff" stroke-width="0.5"/>
<circle cx="256.11" cy="464.26" r="2.6" fill="#ff0000" stroke="#fff" stroke-width="0.5"/>
<circle cx="262.48" cy="463.5" r="2.6" fill="#0000ff" stroke="#fff" stroke-width="0.5"/>
<circle cx="267.94" cy="484.14" r="2.6" fill="#ff0000" stroke="#fff" stroke-width="0.5"/>
<circle cx="282.81" cy="487.32" r="2.6" fill="#ff0000" stroke="#fff" stroke-width="0.5"/>
<circle cx="266.12" cy="498.55" r="2.6" fill="#0000ff" stroke="#fff" stroke-width="0.5"/>
<circle cx="288.73" cy="501.43" r="2.6" fill="#ff0000" stroke="#fff" stroke-width="0.5"/>
<circle cx="232.28" cy="507.05" r="2.6" fill="#ff0000" stroke="#fff" stroke-width="0.5"/>
<circle cx="228.64" cy="512.51" r="2.6" fill="#ff0000" stroke="#fff" stroke-width="0.5"/>
<circle cx="242.3" cy="512.21" r="2.6" fill="#ff0000" stroke="#fff" stroke-width="0.5"/>
<circle cx="252.62" cy="505.38" r="2.6" fill="#ff0000" stroke="#fff" stroke-width="0.5"/>
<circle cx="273.71" cy="509.63" r="2.6" fill="#0000ff" stroke="#fff" stroke-width="0.5"/>
<circle cx="277.2" cy="513.73" r="2.6" fill="#ff0000" stroke="#fff" stroke-width="0.5"/>
<circle cx="264.45" cy="522.22" r="2.6" fill="#0000ff" stroke="#fff" stroke-width="0.5"/>
<circle cx="291.16" cy="525.41" r="2.6" fill="#ff0000" stroke="#fff" stroke-width="0.5"/>
<circle cx="302.09" cy="521.16" r="2.6" fill="#ff0000" stroke="#fff" stroke-width="0.5"/>
<circle cx="270.52" cy="533.15" r="2.6" fill="#ff0000" stroke="#fff" stroke-width="0.5"/>
<circle cx="275.08" cy="536.64" r="2.6" fill="#ff0000" stroke="#fff" stroke-width="0.5"/>
<circle cx="277.35" cy="534.21" r="2.6" fill="#ff0000" stroke="#fff" stroke-width="0.5"/>
<circle cx="283.42" cy="538" r="2.6" fill="#ff0000" stroke="#fff" stroke-width="0.5"/>
<circle cx="296.02" cy="541.65" r="2.6" fill="#ff0000" stroke="#fff" stroke-width="0.5"/>
<circle cx="243.21" cy="543.32" r="2.6" fill="#0000ff" stroke="#fff" stroke-width="0.5"/>
<circle cx="258.38" cy="547.87" r="2.6" fill="#0000ff" stroke="#fff" stroke-width="0.5"/>
<circle cx="262.94" cy="544.83" r="2.6" fill="#0000ff" stroke="#fff" stroke-width="0.5"/>
<circle cx="287.82" cy="545.74" r="2.6" fill="#0000ff" stroke="#fff" stroke-width="0.5"/>
<circle cx="161.26" cy="556.23" r="2.6" fill="#ff0000" stroke="#fff" stroke-width="0.5"/>
<circle cx="171.58" cy="555.02" r="2.6" fill="#0000ff" stroke="#fff" stroke-width="0.5"/>
<circle cx="172.03" cy="564.88" r="2.6" fill="#ff0000" stroke="#fff" stroke-width="0.5"/>
<circle cx="164.6" cy="567.31" r="2.6" fill="#0000ff" stroke="#fff" stroke-width="0.5"/>
<circle cx="154.73" cy="572.47" r="2.6" fill="#ff0000" stroke="#fff" stroke-width="0.5"/>
<circle cx="223.93" cy="565.03" r="2.6" fill="#0000ff" stroke="#fff" stroke-width="0.5"/>
<circle cx="207.54" cy="574.44" r="2.6" fill="#ff0000" stroke="#fff" stroke-width="0.5"/>
<circle cx="194.34" cy="576.87" r="2.6" fill="#ff0000" stroke="#fff" stroke-width="0.5"/>
<circle cx="193.13" cy="580.81" r="2.6" fill="#ff0000" stroke="#fff" stroke-width="0.5"/>
<circle cx="173.25" cy="584.91" r="2.6" fill="#0000ff" stroke="#fff" stroke-width="0.5"/>
<circle cx="163.23" cy="586.43" r="2.6" fill="#ff0000" stroke="#fff" stroke-width="0.5"/>
<circle cx="209.51" cy="590.83" r="2.6" fill="#ff0000" stroke="#fff" stroke-width="0.5"/>
<circle cx="174.46" cy="618.14" r="2.6" fill="#ff0000" stroke="#fff" stroke-width="0.5"/>
<circle cx="173.55" cy="620.57" r="2.6" fill="#ff0000" stroke="#fff" stroke-width="0.5"/>
<circle cx="182.96" cy="623" r="2.6" fill="#ff0000" stroke="#fff" stroke-width="0.5"/>
<circle cx="128.63" cy="569.58" r="2.6" fill="#ff0000" stroke="#fff" stroke-width="0.5"/>
<circle cx="234.86" cy="557.29" r="2.6" fill="#0000ff" stroke="#fff" stroke-width="0.5"/>
<circle cx="274.47" cy="558.66" r="2.6" fill="#ff0000" stroke="#fff" stroke-width="0.5"/>
<circle cx="271.43" cy="564.42" r="2.6" fill="#0000ff" stroke="#fff" stroke-width="0.5"/>
<circle cx="280.84" cy="568.98" r="2.6" fill="#0000ff" stroke="#fff" stroke-width="0.5"/>
<circle cx="293.74" cy="566.85" r="2.6" fill="#0000ff" stroke="#fff" stroke-width="0.5"/>
<circle cx="246.7" cy="567.46" r="2.6" fill="#ff0000" stroke="#fff" stroke-width="0.5"/>
<circle cx="251.1" cy="569.13" r="2.6" fill="#ff0000" stroke="#fff" stroke-width="0.5"/>
<circle cx="239.72" cy="574.89" r="2.6" fill="#ff0000" stroke="#fff" stroke-width="0.5"/>
<circle cx="257.02" cy="588.55" r="2.6" fill="#ff0000" stroke="#fff" stroke-width="0.5"/>
<circle cx="250.19" cy="595.53" r="2.6" fill="#ff0000" stroke="#fff" stroke-width="0.5"/>
<circle cx="234.71" cy="602.21" r="2.6" fill="#0000ff" stroke="#fff" stroke-width="0.5"/>
<rect x="35.5" y="363.5" width="279.3" height="271.7" fill="none" stroke="#555" stroke-width="1"/>
<line x1="32" y1="386.78" x2="35.5" y2="386.78" stroke="#444" stroke-width="1"/>
<text x="29.5" y="390.08" text-anchor="end" class="tl">4</text>
<line x1="32" y1="427.44" x2="35.5" y2="427.44" stroke="#444" stroke-width="1"/>
<text x="29.5" y="430.74" text-anchor="end" class="tl">2</text>
<line x1="32" y1="468.1" x2="35.5" y2="468.1" stroke="#444" stroke-width="1"/>
<text x="29.5" y="471.4" text-anchor="end" class="tl">0</text>
<line x1="32" y1="508.76" x2="35.5" y2="508.76" stroke="#444" stroke-width="1"/>
<text x="29.5" y="512.06" text-anchor="end" class="tl">− 2</text>
<line x1="32" y1="549.42" x2="35.5" y2="549.42" stroke="#444" stroke-width="1"/>
<text x="29.5" y="552.72" text-anchor="end" class="tl">− 4</text>
<line x1="32" y1="590.08" x2="35.5" y2="590.08" stroke="#444" stroke-width="1"/>
<text x="29.5" y="593.38" text-anchor="end" class="tl">− 6</text>
<line x1="32" y1="630.74" x2="35.5" y2="630.74" stroke="#444" stroke-width="1"/>
<text x="29.5" y="634.04" text-anchor="end" class="tl">− 8</text>
<line x1="46.7" y1="635.2" x2="46.7" y2="638.7" stroke="#444" stroke-width="1"/>
<text x="46.7" y="647.8" text-anchor="middle" class="tl">− 10.0</text>
<line x1="77.95" y1="635.2" x2="77.95" y2="638.7" stroke="#444" stroke-width="1"/>
<text x="77.95" y="647.8" text-anchor="middle" class="tl">− 7.5</text>
<line x1="109.2" y1="635.2" x2="109.2" y2="638.7" stroke="#444" stroke-width="1"/>
<text x="109.2" y="647.8" text-anchor="middle" class="tl">− 5.0</text>
<line x1="140.45" y1="635.2" x2="140.45" y2="638.7" stroke="#444" stroke-width="1"/>
<text x="140.45" y="647.8" text-anchor="middle" class="tl">− 2.5</text>
<line x1="171.7" y1="635.2" x2="171.7" y2="638.7" stroke="#444" stroke-width="1"/>
<text x="171.7" y="647.8" text-anchor="middle" class="tl">0.0</text>
<line x1="202.95" y1="635.2" x2="202.95" y2="638.7" stroke="#444" stroke-width="1"/>
<text x="202.95" y="647.8" text-anchor="middle" class="tl">2.5</text>
<line x1="234.2" y1="635.2" x2="234.2" y2="638.7" stroke="#444" stroke-width="1"/>
<text x="234.2" y="647.8" text-anchor="middle" class="tl">5.0</text>
<line x1="265.45" y1="635.2" x2="265.45" y2="638.7" stroke="#444" stroke-width="1"/>
<text x="265.45" y="647.8" text-anchor="middle" class="tl">7.5</text>
<line x1="296.7" y1="635.2" x2="296.7" y2="638.7" stroke="#444" stroke-width="1"/>
<text x="296.7" y="647.8" text-anchor="middle" class="tl">10.0</text>
<text x="174.5" y="658.5" text-anchor="middle" class="al" textLength="24.2" lengthAdjust="spacingAndGlyphs">tSNE1</text>
<text transform="translate(12.6,500) rotate(-90)" text-anchor="middle" class="al" textLength="24.2" lengthAdjust="spacingAndGlyphs">tSNE2</text>
<rect x="237.4" y="367.6" width="73" height="39.9" rx="2" fill="#fff" fill-opacity="0.8" stroke="#d6d6d6" stroke-width="0.8"/>
<text x="273.9" y="377.6" text-anchor="middle" class="lg">Classes</text>
<circle cx="248.8" cy="387.3" r="3.05" fill="#ff0000"/>
<text x="264.2" y="390.2" class="lg">Gleason_3</text>
<circle cx="248.8" cy="399.8" r="3.05" fill="#0000ff"/>
<text x="264.2" y="402.7" class="lg">Gleason_4</text>
<text x="364.5" y="353.4" class="pl">d</text>
<circle cx="490.74" cy="375.63" r="2.6" fill="#0000ff" stroke="#fff" stroke-width="0.5"/>
<circle cx="496.66" cy="396.42" r="2.6" fill="#0000ff" stroke="#fff" stroke-width="0.5"/>
<circle cx="493.32" cy="403.85" r="2.6" fill="#0000ff" stroke="#fff" stroke-width="0.5"/>
<circle cx="487.86" cy="405.52" r="2.6" fill="#0000ff" stroke="#fff" stroke-width="0.5"/>
<circle cx="497.42" cy="407.04" r="2.6" fill="#ff0000" stroke="#fff" stroke-width="0.5"/>
<circle cx="471.17" cy="402.49" r="2.6" fill="#ff0000" stroke="#fff" stroke-width="0.5"/>
<circle cx="454.63" cy="405.37" r="2.6" fill="#ff0000" stroke="#fff" stroke-width="0.5"/>
<circle cx="459.18" cy="404.16" r="2.6" fill="#0000ff" stroke="#fff" stroke-width="0.5"/>
<circle cx="469.35" cy="409.17" r="2.6" fill="#0000ff" stroke="#fff" stroke-width="0.5"/>
<circle cx="479.21" cy="410.38" r="2.6" fill="#0000ff" stroke="#fff" stroke-width="0.5"/>
<circle cx="485.89" cy="422.37" r="2.6" fill="#0000ff" stroke="#fff" stroke-width="0.5"/>
<circle cx="477.09" cy="430.86" r="2.6" fill="#0000ff" stroke="#fff" stroke-width="0.5"/>
<circle cx="496.97" cy="428.13" r="2.6" fill="#ff0000" stroke="#fff" stroke-width="0.5"/>
<circle cx="441.58" cy="426.77" r="2.6" fill="#ff0000" stroke="#fff" stroke-width="0.5"/>
<circle cx="456.15" cy="431.47" r="2.6" fill="#ff0000" stroke="#fff" stroke-width="0.5"/>
<circle cx="436.12" cy="437.09" r="2.6" fill="#ff0000" stroke="#fff" stroke-width="0.5"/>
<circle cx="427.31" cy="439.06" r="2.6" fill="#ff0000" stroke="#fff" stroke-width="0.5"/>
<circle cx="450.68" cy="441.94" r="2.6" fill="#0000ff" stroke="#fff" stroke-width="0.5"/>
<circle cx="457.06" cy="454.84" r="2.6" fill="#0000ff" stroke="#fff" stroke-width="0.5"/>
<circle cx="543.56" cy="383.98" r="2.6" fill="#ff0000" stroke="#fff" stroke-width="0.5"/>
<circle cx="542.5" cy="385.8" r="2.6" fill="#ff0000" stroke="#fff" stroke-width="0.5"/>
<circle cx="547.05" cy="382.76" r="2.6" fill="#0000ff" stroke="#fff" stroke-width="0.5"/>
<circle cx="506.99" cy="401.73" r="2.6" fill="#ff0000" stroke="#fff" stroke-width="0.5"/>
<circle cx="511.24" cy="403.1" r="2.6" fill="#0000ff" stroke="#fff" stroke-width="0.5"/>
<circle cx="536.12" cy="400.06" r="2.6" fill="#ff0000" stroke="#fff" stroke-width="0.5"/>
<circle cx="543.41" cy="408.86" r="2.6" fill="#0000ff" stroke="#fff" stroke-width="0.5"/>
<circle cx="534.61" cy="422.37" r="2.6" fill="#0000ff" stroke="#fff" stroke-width="0.5"/>
<circle cx="500.31" cy="433.9" r="2.6" fill="#0000ff" stroke="#fff" stroke-width="0.5"/>
<circle cx="554.64" cy="440.88" r="2.6" fill="#0000ff" stroke="#fff" stroke-width="0.5"/>
<circle cx="521.71" cy="452.72" r="2.6" fill="#0000ff" stroke="#fff" stroke-width="0.5"/>
<circle cx="550.84" cy="457.12" r="2.6" fill="#ff0000" stroke="#fff" stroke-width="0.5"/>
<circle cx="428.83" cy="460.16" r="2.6" fill="#ff0000" stroke="#fff" stroke-width="0.5"/>
<circle cx="424.28" cy="463.8" r="2.6" fill="#ff0000" stroke="#fff" stroke-width="0.5"/>
<circle cx="443.25" cy="463.65" r="2.6" fill="#ff0000" stroke="#fff" stroke-width="0.5"/>
<circle cx="436.42" cy="468.35" r="2.6" fill="#ff0000" stroke="#fff" stroke-width="0.5"/>
<circle cx="441.12" cy="470.33" r="2.6" fill="#ff0000" stroke="#fff" stroke-width="0.5"/>
<circle cx="442.34" cy="476.7" r="2.6" fill="#ff0000" stroke="#fff" stroke-width="0.5"/>
<circle cx="465.55" cy="465.17" r="2.6" fill="#ff0000" stroke="#fff" stroke-width="0.5"/>
<circle cx="486.19" cy="468.66" r="2.6" fill="#ff0000" stroke="#fff" stroke-width="0.5"/>
<circle cx="487.41" cy="473.66" r="2.6" fill="#ff0000" stroke="#fff" stroke-width="0.5"/>
<circle cx="474.36" cy="474.88" r="2.6" fill="#ff0000" stroke="#fff" stroke-width="0.5"/>
<circle cx="415.78" cy="470.02" r="2.6" fill="#0000ff" stroke="#fff" stroke-width="0.5"/>
<circle cx="423.37" cy="481.86" r="2.6" fill="#ff0000" stroke="#fff" stroke-width="0.5"/>
<circle cx="422.15" cy="479.58" r="2.6" fill="#0000ff" stroke="#fff" stroke-width="0.5"/>
<circle cx="431.11" cy="481.71" r="2.6" fill="#0000ff" stroke="#fff" stroke-width="0.5"/>
<circle cx="450.68" cy="482.31" r="2.6" fill="#ff0000" stroke="#fff" stroke-width="0.5"/>
<circle cx="457.36" cy="485.35" r="2.6" fill="#0000ff" stroke="#fff" stroke-width="0.5"/>
<circle cx="454.17" cy="490.96" r="2.6" fill="#0000ff" stroke="#fff" stroke-width="0.5"/>
<circle cx="443.25" cy="493.24" r="2.6" fill="#0000ff" stroke="#fff" stroke-width="0.5"/>
<circle cx="425.34" cy="496.58" r="2.6" fill="#0000ff" stroke="#fff" stroke-width="0.5"/>
<circle cx="434.75" cy="500.07" r="2.6" fill="#0000ff" stroke="#fff" stroke-width="0.5"/>
<circle cx="439.15" cy="509.17" r="2.6" fill="#0000ff" stroke="#fff" stroke-width="0.5"/>
<circle cx="485.74" cy="495.52" r="2.6" fill="#0000ff" stroke="#fff" stroke-width="0.5"/>
<circle cx="484.37" cy="508.11" r="2.6" fill="#0000ff" stroke="#fff" stroke-width="0.5"/>
<circle cx="457.97" cy="518.13" r="2.6" fill="#ff0000" stroke="#fff" stroke-width="0.5"/>
<circle cx="450.53" cy="521.92" r="2.6" fill="#ff0000" stroke="#fff" stroke-width="0.5"/>
<circle cx="474.51" cy="517.67" r="2.6" fill="#0000ff" stroke="#fff" stroke-width="0.5"/>
<circle cx="489.98" cy="525.26" r="2.6" fill="#0000ff" stroke="#fff" stroke-width="0.5"/>
<circle cx="484.37" cy="528.29" r="2.6" fill="#0000ff" stroke="#fff" stroke-width="0.5"/>
<circle cx="431.26" cy="530.87" r="2.6" fill="#ff0000" stroke="#fff" stroke-width="0.5"/>
<circle cx="441.27" cy="528.9" r="2.6" fill="#0000ff" stroke="#fff" stroke-width="0.5"/>
<circle cx="457.97" cy="531.02" r="2.6" fill="#ff0000" stroke="#fff" stroke-width="0.5"/>
<circle cx="471.02" cy="539.37" r="2.6" fill="#0000ff" stroke="#fff" stroke-width="0.5"/>
<circle cx="482.09" cy="543.16" r="2.6" fill="#0000ff" stroke="#fff" stroke-width="0.5"/>
<circle cx="496.51" cy="540.13" r="2.6" fill="#ff0000" stroke="#fff" stroke-width="0.5"/>
<circle cx="449.17" cy="544.68" r="2.6" fill="#ff0000" stroke="#fff" stroke-width="0.5"/>
<circle cx="499.55" cy="492.78" r="2.6" fill="#0000ff" stroke="#fff" stroke-width="0.5"/>
<circle cx="500.77" cy="507.96" r="2.6" fill="#0000ff" stroke="#fff" stroke-width="0.5"/>
<circle cx="520.49" cy="465.62" r="2.6" fill="#ff0000" stroke="#fff" stroke-width="0.5"/>
<circle cx="524.14" cy="467.44" r="2.6" fill="#0000ff" stroke="#fff" stroke-width="0.5"/>
<circle cx="535.52" cy="468.2" r="2.6" fill="#0000ff" stroke="#fff" stroke-width="0.5"/>
<circle cx="552.81" cy="467.14" r="2.6" fill="#0000ff" stroke="#fff" stroke-width="0.5"/>
<circle cx="507.9" cy="470.93" r="2.6" fill="#0000ff" stroke="#fff" stroke-width="0.5"/>
<circle cx="568.14" cy="472.75" r="2.6" fill="#0000ff" stroke="#fff" stroke-width="0.5"/>
<circle cx="569.36" cy="479.28" r="2.6" fill="#0000ff" stroke="#fff" stroke-width="0.5"/>
<circle cx="535.67" cy="480.49" r="2.6" fill="#0000ff" stroke="#fff" stroke-width="0.5"/>
<circle cx="561.92" cy="485.2" r="2.6" fill="#0000ff" stroke="#fff" stroke-width="0.5"/>
<circle cx="515.94" cy="496.73" r="2.6" fill="#ff0000" stroke="#fff" stroke-width="0.5"/>
<circle cx="523.38" cy="497.03" r="2.6" fill="#ff0000" stroke="#fff" stroke-width="0.5"/>
<circle cx="532.94" cy="497.94" r="2.6" fill="#ff0000" stroke="#fff" stroke-width="0.5"/>
<circle cx="515.03" cy="504.47" r="2.6" fill="#ff0000" stroke="#fff" stroke-width="0.5"/>
<circle cx="579.37" cy="494.3" r="2.6" fill="#0000ff" stroke="#fff" stroke-width="0.5"/>
<circle cx="582.56" cy="492.03" r="2.6" fill="#0000ff" stroke="#fff" stroke-width="0.5"/>
<circle cx="573.91" cy="501.13" r="2.6" fill="#0000ff" stroke="#fff" stroke-width="0.5"/>
<circle cx="564.8" cy="503.1" r="2.6" fill="#0000ff" stroke="#fff" stroke-width="0.5"/>
<circle cx="590.14" cy="499.46" r="2.6" fill="#ff0000" stroke="#fff" stroke-width="0.5"/>
<circle cx="587.11" cy="507.5" r="2.6" fill="#0000ff" stroke="#fff" stroke-width="0.5"/>
<circle cx="567.69" cy="517.52" r="2.6" fill="#0000ff" stroke="#fff" stroke-width="0.5"/>
<circle cx="581.95" cy="523.29" r="2.6" fill="#0000ff" stroke="#fff" stroke-width="0.5"/>
<circle cx="592.88" cy="521.77" r="2.6" fill="#0000ff" stroke="#fff" stroke-width="0.5"/>
<circle cx="533.24" cy="524.2" r="2.6" fill="#ff0000" stroke="#fff" stroke-width="0.5"/>
<circle cx="550.24" cy="524.35" r="2.6" fill="#0000ff" stroke="#fff" stroke-width="0.5"/>
<circle cx="554.79" cy="527.23" r="2.6" fill="#ff0000" stroke="#fff" stroke-width="0.5"/>
<circle cx="539.01" cy="536.94" r="2.6" fill="#ff0000" stroke="#fff" stroke-width="0.5"/>
<circle cx="555.09" cy="536.94" r="2.6" fill="#0000ff" stroke="#fff" stroke-width="0.5"/>
<circle cx="514.73" cy="541.95" r="2.6" fill="#0000ff" stroke="#fff" stroke-width="0.5"/>
<circle cx="565.71" cy="549.99" r="2.6" fill="#0000ff" stroke="#fff" stroke-width="0.5"/>
<circle cx="611.4" cy="478.82" r="2.6" fill="#ff0000" stroke="#fff" stroke-width="0.5"/>
<circle cx="595.93" cy="488.23" r="2.6" fill="#ff0000" stroke="#fff" stroke-width="0.5"/>
<circle cx="596.08" cy="490.81" r="2.6" fill="#0000ff" stroke="#fff" stroke-width="0.5"/>
<circle cx="595.62" cy="510.54" r="2.6" fill="#ff0000" stroke="#fff" stroke-width="0.5"/>
<circle cx="608.37" cy="512.66" r="2.6" fill="#0000ff" stroke="#fff" stroke-width="0.5"/>
<circle cx="643.57" cy="531.63" r="2.6" fill="#0000ff" stroke="#fff" stroke-width="0.5"/>
<circle cx="619.6" cy="538.92" r="2.6" fill="#0000ff" stroke="#fff" stroke-width="0.5"/>
<circle cx="619.9" cy="536.64" r="2.6" fill="#0000ff" stroke="#fff" stroke-width="0.5"/>
<circle cx="610.49" cy="542.71" r="2.6" fill="#0000ff" stroke="#fff" stroke-width="0.5"/>
<circle cx="609.28" cy="540.74" r="2.6" fill="#0000ff" stroke="#fff" stroke-width="0.5"/>
<circle cx="628.25" cy="545.74" r="2.6" fill="#0000ff" stroke="#fff" stroke-width="0.5"/>
<circle cx="638.72" cy="550.9" r="2.6" fill="#0000ff" stroke="#fff" stroke-width="0.5"/>
<circle cx="664.06" cy="549.54" r="2.6" fill="#ff0000" stroke="#fff" stroke-width="0.5"/>
<circle cx="458.42" cy="560.78" r="2.6" fill="#0000ff" stroke="#fff" stroke-width="0.5"/>
<circle cx="481.64" cy="570.8" r="2.6" fill="#ff0000" stroke="#fff" stroke-width="0.5"/>
<circle cx="491.2" cy="571.1" r="2.6" fill="#ff0000" stroke="#fff" stroke-width="0.5"/>
<circle cx="491.5" cy="573.07" r="2.6" fill="#ff0000" stroke="#fff" stroke-width="0.5"/>
<circle cx="518.98" cy="555.02" r="2.6" fill="#ff0000" stroke="#fff" stroke-width="0.5"/>
<circle cx="522.01" cy="563.97" r="2.6" fill="#ff0000" stroke="#fff" stroke-width="0.5"/>
<circle cx="506.08" cy="567.15" r="2.6" fill="#0000ff" stroke="#fff" stroke-width="0.5"/>
<circle cx="506.08" cy="574.29" r="2.6" fill="#ff0000" stroke="#fff" stroke-width="0.5"/>
<circle cx="513.06" cy="574.29" r="2.6" fill="#ff0000" stroke="#fff" stroke-width="0.5"/>
<circle cx="510.33" cy="584.91" r="2.6" fill="#0000ff" stroke="#fff" stroke-width="0.5"/>
<circle cx="563.29" cy="560.17" r="2.6" fill="#0000ff" stroke="#fff" stroke-width="0.5"/>
<circle cx="566.93" cy="573.83" r="2.6" fill="#0000ff" stroke="#fff" stroke-width="0.5"/>
<circle cx="561.31" cy="580.51" r="2.6" fill="#ff0000" stroke="#fff" stroke-width="0.5"/>
<circle cx="575.73" cy="597.66" r="2.6" fill="#0000ff" stroke="#fff" stroke-width="0.5"/>
<circle cx="580.13" cy="600.54" r="2.6" fill="#ff0000" stroke="#fff" stroke-width="0.5"/>
<circle cx="581.95" cy="607.06" r="2.6" fill="#0000ff" stroke="#fff" stroke-width="0.5"/>
<circle cx="635.08" cy="559.72" r="2.6" fill="#0000ff" stroke="#fff" stroke-width="0.5"/>
<circle cx="624.91" cy="563.66" r="2.6" fill="#0000ff" stroke="#fff" stroke-width="0.5"/>
<circle cx="629.92" cy="562.91" r="2.6" fill="#0000ff" stroke="#fff" stroke-width="0.5"/>
<circle cx="669.67" cy="564.73" r="2.6" fill="#0000ff" stroke="#fff" stroke-width="0.5"/>
<circle cx="647.22" cy="571.25" r="2.6" fill="#0000ff" stroke="#fff" stroke-width="0.5"/>
<circle cx="662.54" cy="573.22" r="2.6" fill="#0000ff" stroke="#fff" stroke-width="0.5"/>
<circle cx="653.74" cy="577.78" r="2.6" fill="#0000ff" stroke="#fff" stroke-width="0.5"/>
<circle cx="618.38" cy="581.72" r="2.6" fill="#ff0000" stroke="#fff" stroke-width="0.5"/>
<circle cx="622.33" cy="582.78" r="2.6" fill="#0000ff" stroke="#fff" stroke-width="0.5"/>
<circle cx="612.92" cy="588.55" r="2.6" fill="#ff0000" stroke="#fff" stroke-width="0.5"/>
<circle cx="637.35" cy="588.25" r="2.6" fill="#0000ff" stroke="#fff" stroke-width="0.5"/>
<circle cx="657.38" cy="591.28" r="2.6" fill="#0000ff" stroke="#fff" stroke-width="0.5"/>
<circle cx="663.6" cy="588.7" r="2.6" fill="#0000ff" stroke="#fff" stroke-width="0.5"/>
<circle cx="642.81" cy="596.29" r="2.6" fill="#0000ff" stroke="#fff" stroke-width="0.5"/>
<circle cx="631.59" cy="603.73" r="2.6" fill="#ff0000" stroke="#fff" stroke-width="0.5"/>
<circle cx="639.17" cy="601.75" r="2.6" fill="#ff0000" stroke="#fff" stroke-width="0.5"/>
<circle cx="659.96" cy="601.15" r="2.6" fill="#0000ff" stroke="#fff" stroke-width="0.5"/>
<circle cx="595.62" cy="611.62" r="2.6" fill="#ff0000" stroke="#fff" stroke-width="0.5"/>
<circle cx="614.89" cy="611.31" r="2.6" fill="#0000ff" stroke="#fff" stroke-width="0.5"/>
<circle cx="643.27" cy="612.22" r="2.6" fill="#ff0000" stroke="#fff" stroke-width="0.5"/>
<circle cx="627.03" cy="622.85" r="2.6" fill="#0000ff" stroke="#fff" stroke-width="0.5"/>
<rect x="403.3" y="363.4" width="279.1" height="271.6" fill="none" stroke="#555" stroke-width="1"/>
<line x1="399.8" y1="398.06" x2="403.3" y2="398.06" stroke="#444" stroke-width="1"/>
<text x="397.3" y="401.36" text-anchor="end" class="tl">4</text>
<line x1="399.8" y1="438.08" x2="403.3" y2="438.08" stroke="#444" stroke-width="1"/>
<text x="397.3" y="441.38" text-anchor="end" class="tl">2</text>
<line x1="399.8" y1="478.1" x2="403.3" y2="478.1" stroke="#444" stroke-width="1"/>
<text x="397.3" y="481.4" text-anchor="end" class="tl">0</text>
<line x1="399.8" y1="518.12" x2="403.3" y2="518.12" stroke="#444" stroke-width="1"/>
<text x="397.3" y="521.42" text-anchor="end" class="tl">− 2</text>
<line x1="399.8" y1="558.14" x2="403.3" y2="558.14" stroke="#444" stroke-width="1"/>
<text x="397.3" y="561.44" text-anchor="end" class="tl">− 4</text>
<line x1="399.8" y1="598.16" x2="403.3" y2="598.16" stroke="#444" stroke-width="1"/>
<text x="397.3" y="601.46" text-anchor="end" class="tl">− 6</text>
<line x1="421.65" y1="635" x2="421.65" y2="638.5" stroke="#444" stroke-width="1"/>
<text x="421.65" y="647.6" text-anchor="middle" class="tl">− 15</text>
<line x1="476.9" y1="635" x2="476.9" y2="638.5" stroke="#444" stroke-width="1"/>
<text x="476.9" y="647.6" text-anchor="middle" class="tl">− 10</text>
<line x1="532.15" y1="635" x2="532.15" y2="638.5" stroke="#444" stroke-width="1"/>
<text x="532.15" y="647.6" text-anchor="middle" class="tl">− 5</text>
<line x1="587.4" y1="635" x2="587.4" y2="638.5" stroke="#444" stroke-width="1"/>
<text x="587.4" y="647.6" text-anchor="middle" class="tl">0</text>
<line x1="642.65" y1="635" x2="642.65" y2="638.5" stroke="#444" stroke-width="1"/>
<text x="642.65" y="647.6" text-anchor="middle" class="tl">5</text>
<text x="542.3" y="658.5" text-anchor="middle" class="al" textLength="24.2" lengthAdjust="spacingAndGlyphs">tSNE1</text>
<text transform="translate(380,500) rotate(-90)" text-anchor="middle" class="al" textLength="24.2" lengthAdjust="spacingAndGlyphs">tSNE2</text>
<rect x="595.3" y="367.4" width="82.9" height="40.1" rx="2" fill="#fff" fill-opacity="0.8" stroke="#d6d6d6" stroke-width="0.8"/>
<text x="636.6" y="377.6" text-anchor="middle" class="lg">Classes</text>
<circle cx="607" cy="387.3" r="3.05" fill="#ff0000"/>
<text x="622.2" y="390.2" class="lg">Gleason_3</text>
<circle cx="607" cy="399.8" r="3.05" fill="#0000ff"/>
<text x="622.2" y="402.7" class="lg">Gleason_4_5</text>
</svg></body></html>
